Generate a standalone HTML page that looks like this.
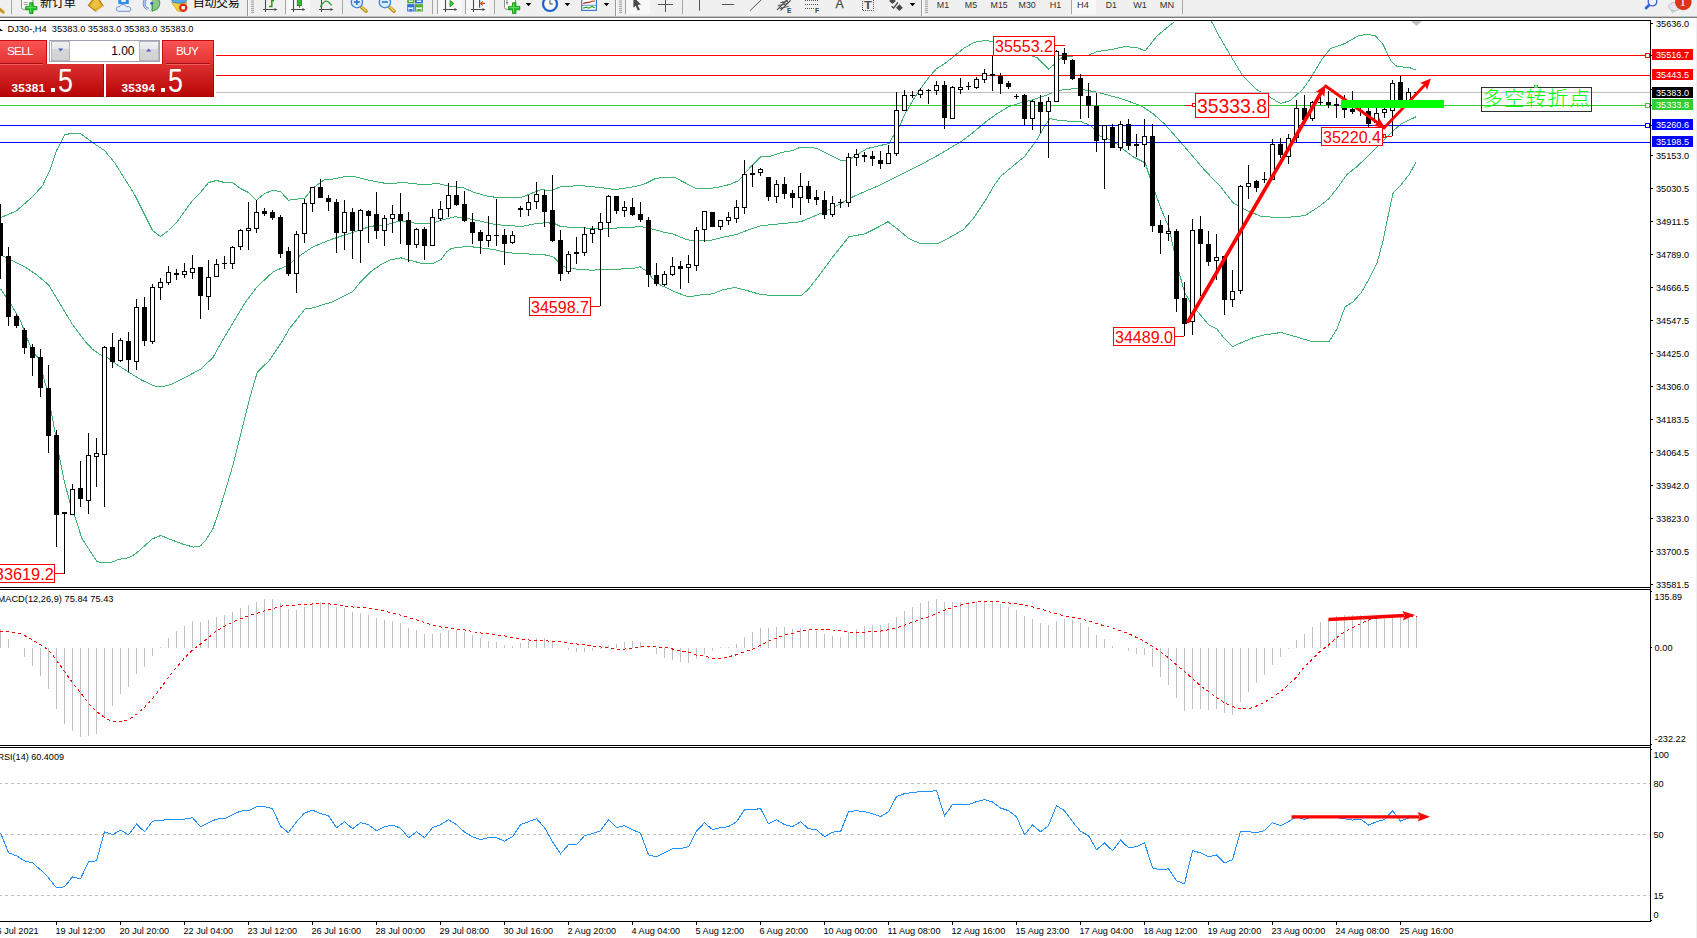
<!DOCTYPE html>
<html lang="zh">
<head>
<meta charset="utf-8">
<title>DJ30-,H4</title>
<style>
html,body{margin:0;padding:0;background:#fff;}
body{width:1697px;height:938px;overflow:hidden;position:relative;font-family:"Liberation Sans", "Noto Sans CJK SC", sans-serif;}
#tb{position:absolute;left:0;top:0;width:1697px;height:16px;background:#f0f0f0;overflow:hidden;}
#tb svg{position:absolute;left:0;top:0;}
.cn{position:absolute;top:-4.3px;font-size:12px;line-height:14px;color:#000;white-space:nowrap;font-family:"Liberation Sans","Noto Sans CJK SC",sans-serif;}
#sh1{position:absolute;left:0;top:16px;width:1697px;height:1px;background:#c4c4c4;}
#sh2{position:absolute;left:0;top:17px;width:1697px;height:1px;background:#7c7c7c;}
#redge{position:absolute;left:1696px;top:18px;width:1px;height:920px;background:#f0f0f0;}
#chart{position:absolute;left:0;top:0;}
#chart text{font-family:"Liberation Sans", "Noto Sans CJK SC", sans-serif;}
/* trade panel */
#panel{position:absolute;left:0;top:40px;width:214px;height:57px;}
#panel div{position:absolute;box-sizing:border-box;}
.tab{background:linear-gradient(#fa5454,#e23232);color:#fff;font-size:11.8px;line-height:24px;height:24px;top:0;letter-spacing:-0.75px;border-top:1px solid #c40c0c;}
.big{background:linear-gradient(#dc3030,#b80606);top:24px;height:33px;color:#fff;border-right:1px solid #b00404;border-bottom:1px solid #ac0000;}
.uline{height:1px;background:#a01414;top:23px;}
.uline2{height:1px;background:#f05c5c;top:24px;}
.sm{font-weight:bold;font-size:11.8px;line-height:12px;top:17.9px;letter-spacing:0.2px;}
.dot{width:4px;height:4px;background:#fff;top:23.5px;}
.lg{font-size:33.5px;line-height:34px;top:0px;transform:scaleX(0.8);transform-origin:0 0;}
#vol{left:49px;top:0px;width:111px;height:22px;border:1px solid #a0a4b4;background:#fff;}
.sp{top:0px;width:19.5px;height:20px;background:linear-gradient(#f0f0f0 0%,#e8e8e8 38%,#d6d6d6 40%,#d2d2d2 100%);border:1px solid #b4b6bc;}
</style>
</head>
<body>
<div id="tb">
<svg width="1697" height="16" viewBox="0 0 1697 16">
<path d="M-1 8.5 L3.2 12.2" stroke="#c99a1e" stroke-width="3" stroke-linecap="round"/>
<rect x="11" y="0" width="1" height="14" fill="#a6a6a6"/>
<path d="M21.5 -2 V7.5 Q21.5 9.2 23.2 9.2 H33 V-2" fill="#fdfdfd" stroke="#8c8c8c" stroke-width="1"/>
<path d="M23.5 2.5 h4.5 M23.5 4.5 h4.5" stroke="#9a9a9a" stroke-width="0.9"/>
<path d="M25.700000000000003 6.3999999999999995 h3.9 v-3.7 h3.4 v3.700 h3.900 v3.400 h-3.900 v3.700 h-3.400 v-3.700 h-3.900 z" fill="#28c428" stroke="#0c8c0c" stroke-width="0.800" stroke-linejoin="round"/>
<path d="M30.5 3.5 v9 M26.700000000000003 7.3999999999999995 h9" stroke="#7cf07c" stroke-width="0.800" opacity="0.800"/>
<polygon points="88.1,5.4 93.1,-1 99,-1 103.4,6.1 95.8,11.5" fill="#d49a18" stroke="#a87008" stroke-width="0.8"/>
<polygon points="90,6.2 94,0 98,0 101,5.4 95.6,9.4" fill="#ecc040"/>
<path d="M95.8 11.3 L103.2 6.2" stroke="#fff0b0" stroke-width="1"/>
<rect x="118.3" y="-3" width="10.5" height="7" fill="#2a90ee"/><rect x="121.3" y="-3" width="4.5" height="5" fill="#e4f2ff"/>
<path d="M118.5 11.3 q-3 -0.4 -2.2 -3 q0.8 -2 3 -1.6 q1 -2.6 4 -2.2 q2.6 0.2 3.2 2.4 q2.2 -1 3.8 0.6 q1.6 2.2 -0.6 3.8 z" fill="#e6eefa" stroke="#6486c4" stroke-width="0.9"/>
<circle cx="151.8" cy="3.4" r="7.4" fill="#eef2f6" stroke="#c4d4e8" stroke-width="0.8"/>
<path d="M151.8 3.4 L151.8 -4 A7.4 7.4 0 0 1 152.6 10.8 Z" fill="#8cc48c"/><path d="M152 -4 A7.4 7.4 0 0 1 152.6 10.8" fill="none" stroke="#4aa64a" stroke-width="1.2"/>
<path d="M149 -1.5 A5 5 0 0 0 149 8.3 M147 -3 A7.2 7.2 0 0 0 147 9.8" fill="none" stroke="#4a7cd0" stroke-width="0.9"/>
<path d="M152.2 3.4 V11.4" stroke="#2a9a2a" stroke-width="1.3"/><circle cx="151.8" cy="3.2" r="1.5" fill="#2a66c8"/>
<path d="M171.6 2.2 L186.6 2.2 L186 6 L180.5 11.4 L177.5 11 Z" fill="#f4d23c" stroke="#c89c14" stroke-width="0.7"/>
<ellipse cx="179.2" cy="0.6" rx="7.4" ry="2.6" fill="#5aa8e4" stroke="#2a78c0" stroke-width="0.7"/>
<circle cx="183.2" cy="7.7" r="4.2" fill="#dc2a14"/><rect x="181.5" y="6" width="3.4" height="3.4" fill="#fff"/>
<rect x="247" y="0" width="1" height="16" fill="#9a9a9a"/><rect x="248" y="0" width="1" height="16" fill="#fafafa"/>
<rect x="251" y="0.50" width="3" height="1" fill="#a4a4a4"/>
<rect x="251" y="2.42" width="3" height="1" fill="#a4a4a4"/>
<rect x="251" y="4.34" width="3" height="1" fill="#a4a4a4"/>
<rect x="251" y="6.26" width="3" height="1" fill="#a4a4a4"/>
<rect x="251" y="8.18" width="3" height="1" fill="#a4a4a4"/>
<rect x="251" y="10.10" width="3" height="1" fill="#a4a4a4"/>
<rect x="251" y="12.02" width="3" height="1" fill="#a4a4a4"/>
<path d="M265.5 -1 V12 M263 9.500 H276.5" stroke="#4a4a4a" stroke-width="1.100" fill="none"/><polygon points="277.3,9.500 274.5,7.900 274.5,11.100" fill="#4a4a4a"/>
<path d="M269 6.5 h2.8 v-5.7 h2.2" stroke="#1e9e1e" stroke-width="1.5" fill="none"/>
<rect x="285" y="0" width="1" height="14" fill="#a6a6a6"/>
<rect x="287" y="0" width="23" height="14" fill="#f8f8f8"/>
<path d="M293.5 -1 V12 M291 9.500 H304.5" stroke="#4a4a4a" stroke-width="1.100" fill="none"/><polygon points="305.3,9.500 302.5,7.900 302.5,11.100" fill="#4a4a4a"/>
<rect x="297.3" y="-3" width="4.2" height="8.6" fill="#2cc02c" stroke="#0c8c0c" stroke-width="0.8"/><path d="M299.4 5.6 v2.2" stroke="#0c8c0c" stroke-width="1"/>
<path d="M321.5 -1 V12 M319 9.500 H332.5" stroke="#4a4a4a" stroke-width="1.100" fill="none"/><polygon points="333.3,9.500 330.5,7.900 330.5,11.100" fill="#4a4a4a"/>
<path d="M320.2 6.8 Q324 1 326.6 1.1 Q328.6 1.4 331.6 5.4" stroke="#2a9a2a" stroke-width="1.2" fill="none"/>
<rect x="342" y="0" width="1" height="14" fill="#a6a6a6"/>
<path d="M360.7 6.4 L366.09999999999997 11.2" stroke="#b48a10" stroke-width="3.4" stroke-linecap="round"/><path d="M360.9 6.2 L365.9 10.8" stroke="#f0d050" stroke-width="1.6" stroke-linecap="round"/>
<circle cx="356.9" cy="2.2" r="5.6" fill="#d6ecff" stroke="#3c84d4" stroke-width="1.3"/>
<path d="M353.9 2 h6" stroke="#2c6cc4" stroke-width="1.5"/>
<path d="M356.9 -1 v6" stroke="#2c6cc4" stroke-width="1.5"/>
<path d="M388.7 6.4 L394.09999999999997 11.2" stroke="#b48a10" stroke-width="3.4" stroke-linecap="round"/><path d="M388.9 6.2 L393.9 10.8" stroke="#f0d050" stroke-width="1.6" stroke-linecap="round"/>
<circle cx="384.9" cy="2.2" r="5.6" fill="#d6ecff" stroke="#3c84d4" stroke-width="1.3"/>
<path d="M381.9 2 h6" stroke="#2c6cc4" stroke-width="1.5"/>
<rect x="407.2" y="-3" width="7.3" height="6.4" fill="#4eac2e"/><rect x="415" y="-3" width="7.9" height="6.4" fill="#2c6cdc"/><rect x="407.2" y="4.2" width="7.3" height="7.3" fill="#2c6cdc"/><rect x="415" y="4.2" width="7.9" height="7.3" fill="#4eac2e"/>
<path d="M408.8 1.2 h4 M416.8 1.2 h4.4 M408.8 8.2 h4 M416.8 8.2 h4.4" stroke="#fff" stroke-width="1.6"/>
<path d="M408.8 7 v3.6 M412.8 7 v3.6 M416.8 7 v3.6 M421.2 7 v3.6" stroke="#fff" stroke-width="0.9"/>
<rect x="432" y="0" width="1" height="14" fill="#a6a6a6"/>
<rect x="437" y="0" width="1" height="14" fill="#a6a6a6"/>
<rect x="438.5" y="0" width="23" height="14" fill="#f8f8f8"/>
<path d="M445.5 -1 V12 M443 9.500 H456.5" stroke="#4a4a4a" stroke-width="1.100" fill="none"/><polygon points="457.3,9.500 454.5,7.900 454.5,11.100" fill="#4a4a4a"/>
<polygon points="450,0.4 450,6.9 453.9,3.5" fill="#34c434" stroke="#0c8c0c" stroke-width="0.7"/>
<rect x="465" y="0" width="1" height="14" fill="#a6a6a6"/>
<rect x="466.5" y="0" width="23" height="14" fill="#f8f8f8"/>
<path d="M473.5 -1 V12 M471 9.500 H484.5" stroke="#4a4a4a" stroke-width="1.100" fill="none"/><polygon points="485.3,9.500 482.5,7.900 482.5,11.100" fill="#4a4a4a"/>
<path d="M479.6 -1 v8.7" stroke="#1c62b4" stroke-width="1.2"/><path d="M485 3.4 h-4 M482.8 1.4 l-2.3 2 l2.3 2" stroke="#d24a12" stroke-width="1.1" fill="none"/>
<rect x="494" y="0" width="1" height="14" fill="#a6a6a6"/>
<path d="M504.5 -2 V7.5 Q504.5 9.2 506.2 9.2 H515.5 V-2" fill="#fdfdfd" stroke="#8c8c8c" stroke-width="1"/><path d="M507 0 v5 M506 2.6 h2.4" stroke="#6a6a6a" stroke-width="0.8"/>
<path d="M508.6 6.3999999999999995 h3.9 v-3.7 h3.4 v3.700 h3.900 v3.400 h-3.900 v3.700 h-3.400 v-3.700 h-3.900 z" fill="#28c428" stroke="#0c8c0c" stroke-width="0.800" stroke-linejoin="round"/>
<path d="M513.4000000000001 3.5 v9 M509.6 7.3999999999999995 h9" stroke="#7cf07c" stroke-width="0.800" opacity="0.800"/>
<polygon points="525.8,3.1 531.2,3.1 528.5,6.2" fill="#000"/>
<circle cx="550" cy="4" r="7" fill="#f6f8fc" stroke="#1c62cc" stroke-width="2.2"/><path d="M550 0.200 v3.800 h2.800" stroke="#4a4a4a" stroke-width="1" fill="none"/>
<polygon points="564.6999999999999,3.1 570.1,3.1 567.4,6.2" fill="#000"/>
<rect x="581.7" y="-3" width="14.700" height="13.400" fill="#fff" stroke="#3a7ad0" stroke-width="1.2"/><path d="M581.5 5.200 h15" stroke="#3a7ad0" stroke-width="0.8"/>
<path d="M583.2 3.4 l3 -0.8 l3 -0.2 l2.600 -1.200 l3.200 -0.200" stroke="#b03018" stroke-width="1.1" fill="none"/><path d="M583.2 8.2 l3 -1 l2.800 1 l3 -1.800 l3 1.600" stroke="#1ea01e" stroke-width="1.1" fill="none"/>
<polygon points="603.8,3.1 609.2,3.1 606.5,6.2" fill="#000"/>
<rect x="615" y="0" width="1" height="16" fill="#9a9a9a"/><rect x="616" y="0" width="1" height="16" fill="#fafafa"/>
<rect x="619" y="0.50" width="3" height="1" fill="#a4a4a4"/>
<rect x="619" y="2.42" width="3" height="1" fill="#a4a4a4"/>
<rect x="619" y="4.34" width="3" height="1" fill="#a4a4a4"/>
<rect x="619" y="6.26" width="3" height="1" fill="#a4a4a4"/>
<rect x="619" y="8.18" width="3" height="1" fill="#a4a4a4"/>
<rect x="619" y="10.10" width="3" height="1" fill="#a4a4a4"/>
<rect x="619" y="12.02" width="3" height="1" fill="#a4a4a4"/>
<rect x="625" y="0" width="1" height="14" fill="#a6a6a6"/>
<rect x="626.5" y="0" width="23.500" height="14" fill="#f8f8f8"/>
<polygon points="633.4,-3 633.4,7.700 635.7,5.700 638,10.700 639.900,9.600 637.600,5 641,4.600" fill="#484848"/>
<path d="M665.500 -1 V12 M658 4.500 H673" stroke="#555" stroke-width="1"/>
<rect x="682" y="0" width="1" height="14" fill="#a6a6a6"/>
<path d="M699.500 -1 V10.700" stroke="#555" stroke-width="1"/>
<path d="M722 4.500 H734.200" stroke="#555" stroke-width="1"/>
<path d="M750 10.700 L761.800 -0.700" stroke="#555" stroke-width="1"/>
<path d="M777 9.800 l10.600 -10.600 M780.600 10.300 l10 -10" stroke="#4a4a4a" stroke-width="1.2" fill="none"/><path d="M777.600 6 l9.600 -2.400 M779.600 8.600 l9.600 -2.400 M780 2.800 l8 -2 M779 4.500 l3 4 M782.500 1.500 l3 4 M785.500 -1 l3 4" stroke="#4a4a4a" stroke-width="0.9" fill="none"/>
<text x="786.900" y="12.600" font-size="6.800" font-weight="bold" fill="#404040" font-family='"Liberation Sans", "Noto Sans CJK SC", sans-serif'>E</text>
<path d="M805 0.500 h13.400 M805 4.500 h13.400 M805 8.500 h9" stroke="#555" stroke-width="1" stroke-dasharray="1 1"/>
<text x="814.900" y="12.600" font-size="6.800" font-weight="bold" fill="#404040" font-family='"Liberation Sans", "Noto Sans CJK SC", sans-serif'>F</text>
<text x="835.600" y="8.400" font-size="12.200" fill="#484848" stroke="#484848" stroke-width="0.25" font-family='"Liberation Sans", "Noto Sans CJK SC", sans-serif'>A</text>
<path d="M862.500 -1 V10.500 H873.500 V-1" fill="none" stroke="#555" stroke-width="1" stroke-dasharray="1 1"/>
<text x="864.1" y="9" font-size="11.6" font-weight="bold" fill="#505050" font-family='"Liberation Sans", "Noto Sans CJK SC", sans-serif' textLength="7.9" lengthAdjust="spacingAndGlyphs">T</text>
<polygon points="892.500,-2.300 895.900,1.100 892.500,4 889.100,1.100" fill="#484848"/><polygon points="899.400,4.300 902.800,7.700 899.400,11.100 896,7.700" fill="#484848"/><path d="M891.500 6.300 l2.200 1.700 l4.200 -5.600" stroke="#484848" stroke-width="1.400" fill="none"/>
<polygon points="909.8,3.1 915.2,3.1 912.5,6.2" fill="#000"/>
<rect x="921" y="0" width="1" height="16" fill="#9a9a9a"/><rect x="922" y="0" width="1" height="16" fill="#fafafa"/>
<rect x="925" y="0.50" width="3" height="1" fill="#a4a4a4"/>
<rect x="925" y="2.42" width="3" height="1" fill="#a4a4a4"/>
<rect x="925" y="4.34" width="3" height="1" fill="#a4a4a4"/>
<rect x="925" y="6.26" width="3" height="1" fill="#a4a4a4"/>
<rect x="925" y="8.18" width="3" height="1" fill="#a4a4a4"/>
<rect x="925" y="10.10" width="3" height="1" fill="#a4a4a4"/>
<rect x="925" y="12.02" width="3" height="1" fill="#a4a4a4"/>
<rect x="1072" y="0" width="24" height="14" fill="#f8f8f8"/>
<rect x="1071" y="0" width="1" height="14" fill="#a6a6a6"/>
<text x="936.8" y="7.800" font-size="9.400" fill="#303030" font-family='"Liberation Sans", "Noto Sans CJK SC", sans-serif' textLength="12.3" lengthAdjust="spacingAndGlyphs">M1</text>
<text x="964.8" y="7.800" font-size="9.400" fill="#303030" font-family='"Liberation Sans", "Noto Sans CJK SC", sans-serif' textLength="12.3" lengthAdjust="spacingAndGlyphs">M5</text>
<text x="990.6" y="7.800" font-size="9.400" fill="#303030" font-family='"Liberation Sans", "Noto Sans CJK SC", sans-serif' textLength="17.2" lengthAdjust="spacingAndGlyphs">M15</text>
<text x="1018.6" y="7.800" font-size="9.400" fill="#303030" font-family='"Liberation Sans", "Noto Sans CJK SC", sans-serif' textLength="17.2" lengthAdjust="spacingAndGlyphs">M30</text>
<text x="1049.8" y="7.800" font-size="9.400" fill="#303030" font-family='"Liberation Sans", "Noto Sans CJK SC", sans-serif' textLength="11.6" lengthAdjust="spacingAndGlyphs">H1</text>
<text x="1077" y="7.800" font-size="9.400" fill="#303030" font-family='"Liberation Sans", "Noto Sans CJK SC", sans-serif' textLength="11.8" lengthAdjust="spacingAndGlyphs">H4</text>
<text x="1105.8" y="7.800" font-size="9.400" fill="#303030" font-family='"Liberation Sans", "Noto Sans CJK SC", sans-serif' textLength="11" lengthAdjust="spacingAndGlyphs">D1</text>
<text x="1133.3" y="7.800" font-size="9.400" fill="#303030" font-family='"Liberation Sans", "Noto Sans CJK SC", sans-serif' textLength="13.6" lengthAdjust="spacingAndGlyphs">W1</text>
<text x="1159.8" y="7.800" font-size="9.400" fill="#303030" font-family='"Liberation Sans", "Noto Sans CJK SC", sans-serif' textLength="14.4" lengthAdjust="spacingAndGlyphs">MN</text>
<rect x="1182" y="0" width="1" height="14" fill="#a6a6a6"/>
<path d="M1649.4 4.8 L1645.3 8.9" stroke="#2f5fd4" stroke-width="2.7" stroke-linecap="butt"/>
<circle cx="1652.5" cy="1.6" r="4.3" fill="#f6f6fa" stroke="#3a66d8" stroke-width="1.4"/>
<polygon points="1671.3,9.8 1672.3,12.8 1675.4,10.4" fill="#d8d8e0" stroke="#b4b4b4" stroke-width="0.7"/>
<ellipse cx="1674.6" cy="6.6" rx="5.8" ry="4.2" fill="#e6e6ee" stroke="#b8b8b8" stroke-width="0.9"/>
<circle cx="1683.3" cy="2" r="8.3" fill="#dc3418"/>
<text x="1679.6" y="6.2" font-size="13" fill="#fff" font-family='"Liberation Serif",serif'>1</text>
</svg>
<div class="cn" style="left:40px;letter-spacing:-0.1px">新订单</div>
<div class="cn" style="left:192.8px;letter-spacing:-0.35px">自动交易</div>
</div>
<div id="sh1"></div><div id="sh2"></div>
<svg id="chart" width="1697" height="938" viewBox="0 0 1697 938">
<g id="bands" shape-rendering="crispEdges">
<polyline points="0.5,217.8 16.5,210.8 32.5,196.7 42.5,185.7 50.5,168.7 56.5,150.6 64.5,135 70.5,133.5 80.5,133.5 92.5,142.5 104.5,150.5 114.5,162.5 124.5,178.5 134.5,194.5 144.5,214.5 152.5,230.5 160.5,236.5 168.5,230.5 176.5,222.5 184.5,211.5 192.5,200.5 200.5,192.5 208.5,182.5 216.5,180.5 224.5,182.5 232.5,182.5 240.5,188.5 248.5,192.5 256.5,200.3 264.5,193.5 272.5,190.5 280.5,191.5 288.5,200.3 296.5,199.1 304.5,198.5 312.5,188.5 324.5,179.5 330.5,179.6 344.5,176.6 354.6,176.6 370.6,180.6 386.6,183.6 404.7,182.6 422.7,184.6 438.8,183.6 450.8,186.6 462.8,187.6 474.8,192.6 488.9,196.6 504.9,198 520.9,197.6 531,193.6 541,189.6 551,190.6 561,186.6 581.1,185.6 601.1,187.6 615.2,189.6 631.2,187.2 643.2,184.6 655.3,178.6 664.5,177.2 674.5,177.2 684.6,182.6 696.6,188.7 708.6,188.7 720.6,186.7 730.7,184.2 738.7,180.6 744.7,173.6 752.7,164.6 760.7,157 768.8,156.6 780.8,152.6 792.8,150.6 800.8,147 808.8,147 816.9,148.6 824.9,152.6 832.9,156.6 840.9,160.6 846.9,161 857,154.6 867,148.6 877,146.2 889,143.6 893,136.5 896.5,132.8 904.6,114.7 912.6,100.7 920.6,88.7 928.6,77.6 936.6,68.6 944.7,63.6 954.7,55.6 964.7,47.6 974.7,42.2 984.7,40.5 994,41.5 1008.8,46.6 1024.8,53.6 1036.9,57.6 1048.9,69.2 1054.9,63.6 1061.9,57.6 1073,56 1089,55 1097,51.6 1111,49.6 1125.1,46.6 1137.1,47.6 1145.1,51 1156.5,36.5 1168.5,26.5 1174.5,21.5" fill="none" stroke="#3cb371" stroke-width="1" />
<polyline points="1211.5,21.5 1220.5,38.5 1230.5,55.5 1242.5,75.5 1256.5,89.5 1270.5,97.5 1280.5,103.5 1290.5,100.5 1302.5,89.5 1310.5,78.5 1322.5,58.5 1330.5,48.5 1345,43.5 1359,35.5 1367.1,34.5 1375.1,35.5 1383.1,44.5 1391.1,61.5 1397.1,66.5 1409.2,67.5 1416.2,70.2" fill="none" stroke="#3cb371" stroke-width="1" />
<polyline points="0.5,254.7 12.5,260.7 24.5,266.7 36.5,274.7 48.6,284.8 60.6,304.8 72.7,324.8 84.7,340.9 92.7,349.5 100.7,354.9 108.8,358.5 116.8,364.5 128.8,372.2 140.8,379.6 152.9,385.6 160.9,387 170.9,384.6 184.9,377.6 201,369 213,357.5 221,342.9 233.1,322.8 245.1,302.8 257.1,286.8 273.2,271.7 287.2,265.7 301.2,254.7 313.3,246.7 329.3,240.2 330.5,239.7 342.5,235.7 354.6,231.7 370.6,226.3 386.6,224.7 400.7,220.7 414.7,223.1 430.7,223.7 442.8,219.7 454.8,216.7 466.8,218.3 478.8,220.7 490.9,223.7 506.9,225.7 523,226.3 535,223.7 547,222.7 555,223.7 561,226.7 581.1,227.7 601.1,229.1 621.2,227.7 641.2,226.7 655.3,229.7 664.5,232.4 672.5,233.8 684.6,238.8 692.6,240.8 708.6,240.8 720.6,237.8 736.7,234.4 748.7,229.8 760.7,225.7 780.8,223.7 800.8,221.7 812.9,216.7 824.9,211.7 836.9,205.7 853,196.7 869,189.7 880.5,184.9 900.5,174.9 920.6,164.8 940.6,153.8 960.7,141.8 972.7,132.8 984.7,122.7 996.8,113.7 1008.8,106.7 1020.8,102.7 1032.9,99.7 1044.9,95.7 1054.9,91.7 1064.9,89.3 1077,88.7 1089,90.7 1101,93.1 1121.1,98.7 1141.1,105.7 1153.1,113.7 1165.2,124.7 1181.2,142.8 1193.2,156.8 1205.3,170.9 1220.7,186.7 1232.8,202.6 1244.8,209.6 1260.8,216.2 1280.9,218 1304.9,215.6 1319,206.6 1329,198.6 1337,188.5 1347,174.5 1357.1,166.5 1367.1,156.8 1379.1,144.8 1391.1,132.8 1401.1,123.8 1416.2,116.7" fill="none" stroke="#3cb371" stroke-width="1" />
<polyline points="0.5,288.8 6.5,297.8 12.5,306.8 20.5,320.8 26.5,336.9 32.5,350.9 38.5,358.5 46.6,388.6 52.6,418.7 58.6,452.8 64.1,480.5 70,502.9 75.9,519.4 81.8,538.2 97.1,561.8 106.5,563 113.5,561.8 118.4,559.5 129,557.7 136,553.5 152.5,538.8 160.8,535.5 170.2,539.4 184.4,544.7 193.8,547.1 200.5,545.9 205.5,540.5 213,528.5 221,504.9 233.1,464.8 241.1,432.7 249.1,400.6 257.1,372.6 263.1,366.5 269.1,360.9 281.2,342.9 289.2,328.9 305.2,308.8 313.3,307.8 329.3,302.8 330.5,302.9 352.6,291.8 360.6,281.8 370.6,271.8 380.6,264.8 390.6,259.8 400.7,257.8 410.7,260.4 420.7,263.2 432.7,263.8 440.8,259.8 446.8,251.7 450.8,248.7 458.8,247.1 470.8,246.7 482.9,248.1 494.9,249.7 506.9,252.7 531,254.1 547,255.1 553,256.8 557,260.4 561,265.8 571.1,268.8 581.1,269.2 591.1,270.2 611.2,269.2 631.2,268.8 640.2,266.8 647.2,271.8 655.3,281.8 663.3,286.8 664.5,286.9 674.5,291.9 688.6,296.9 700.6,294.9 712.6,293.9 722.6,289.9 734.7,287.5 744.7,289.9 760.7,294.5 776.8,295.9 800.8,295.9 808.8,288.9 820.9,272.9 832.9,256.8 848.9,236.8 865,233.8 877,227.8 888,221.7 897.1,228.8 909.1,238.8 921.1,243.8 937.2,243.8 949.2,237.8 963.2,229.8 973.2,218.7 985.3,200.7 993.3,186.7 1000.5,176.5 1012.5,166.5 1024.5,156.5 1036.5,140.5 1044.5,126.5 1049.9,118.7 1060.9,120.7 1081,121.7 1091,125.7 1097,132.8 1101,136.8 1113,140.8 1121.1,147.8 1133.1,156.8 1145.1,162.8 1151,180.5 1156.5,196.5 1162.6,212.6 1168.6,226.7 1173.6,248.7 1178.6,270.8 1184.7,292.8 1190.7,302.8 1198.7,312.9 1208.7,324.9 1216.7,328.9 1224.8,338.9 1232.8,346.5 1240.8,342.9 1252.8,337.9 1264.8,334.9 1280.9,332.5 1292.9,335.9 1313,341.9 1329,341.9 1337,328.9 1345,306.9 1353.1,301.8 1361.1,292.8 1369.1,278.8 1377.1,262.7 1383.1,240.7 1389.2,210.6 1393.2,192.6 1401.2,184.6 1409.2,174.5 1416.2,161.8" fill="none" stroke="#3cb371" stroke-width="1" />
</g>
<g id="hlines" shape-rendering="crispEdges">
<rect x="216" y="55" width="1434" height="1" fill="#ff0000"/>
<rect x="216" y="75" width="1434" height="1" fill="#ff0000"/>
<rect x="216" y="92" width="1434" height="1" fill="#c0c0c0"/>
<rect x="0" y="105" width="1650" height="1" fill="#32cd32"/>
<rect x="0" y="125" width="1650" height="1" fill="#0000ff"/>
<rect x="0" y="142" width="1650" height="1" fill="#0000ff"/>
</g>
<g id="candles" shape-rendering="crispEdges">
<rect x="0" y="204" width="1" height="75" fill="#000"/>
<rect x="-2" y="223" width="5" height="33" fill="#000"/>
<rect x="8" y="247" width="1" height="79" fill="#000"/>
<rect x="6" y="256" width="5" height="61" fill="#000"/>
<rect x="16" y="314" width="1" height="14" fill="#000"/>
<rect x="14" y="316" width="5" height="10" fill="#000"/>
<rect x="24" y="328" width="1" height="26" fill="#000"/>
<rect x="22" y="330" width="5" height="18" fill="#000"/>
<rect x="32" y="344" width="1" height="32" fill="#000"/>
<rect x="30" y="347" width="5" height="11" fill="#000"/>
<rect x="40" y="349" width="1" height="48" fill="#000"/>
<rect x="38" y="357" width="5" height="31" fill="#000"/>
<rect x="48" y="365" width="1" height="88" fill="#000"/>
<rect x="46" y="388" width="5" height="48" fill="#000"/>
<rect x="56" y="430" width="1" height="117" fill="#000"/>
<rect x="54" y="435" width="5" height="80" fill="#000"/>
<rect x="64" y="512" width="1" height="62" fill="#000"/>
<rect x="62" y="512" width="5" height="2" fill="#000"/>
<rect x="72" y="484" width="1" height="31" fill="#000"/>
<rect x="70" y="489" width="5" height="26" fill="#000"/>
<rect x="71" y="490" width="3" height="24" fill="#fff"/>
<rect x="80" y="461" width="1" height="46" fill="#000"/>
<rect x="78" y="488" width="5" height="11" fill="#000"/>
<rect x="88" y="433" width="1" height="81" fill="#000"/>
<rect x="86" y="455" width="5" height="46" fill="#000"/>
<rect x="87" y="456" width="3" height="44" fill="#fff"/>
<rect x="96" y="438" width="1" height="49" fill="#000"/>
<rect x="94" y="453" width="5" height="4" fill="#000"/>
<rect x="95" y="454" width="3" height="2" fill="#fff"/>
<rect x="104" y="346" width="1" height="161" fill="#000"/>
<rect x="102" y="347" width="5" height="108" fill="#000"/>
<rect x="103" y="348" width="3" height="106" fill="#fff"/>
<rect x="112" y="333" width="1" height="35" fill="#000"/>
<rect x="110" y="347" width="5" height="15" fill="#000"/>
<rect x="120" y="338" width="1" height="24" fill="#000"/>
<rect x="118" y="340" width="5" height="21" fill="#000"/>
<rect x="119" y="341" width="3" height="19" fill="#fff"/>
<rect x="128" y="332" width="1" height="40" fill="#000"/>
<rect x="126" y="341" width="5" height="19" fill="#000"/>
<rect x="136" y="299" width="1" height="71" fill="#000"/>
<rect x="134" y="307" width="5" height="55" fill="#000"/>
<rect x="135" y="308" width="3" height="53" fill="#fff"/>
<rect x="144" y="297" width="1" height="49" fill="#000"/>
<rect x="142" y="307" width="5" height="34" fill="#000"/>
<rect x="152" y="284" width="1" height="60" fill="#000"/>
<rect x="150" y="287" width="5" height="55" fill="#000"/>
<rect x="151" y="288" width="3" height="53" fill="#fff"/>
<rect x="160" y="278" width="1" height="22" fill="#000"/>
<rect x="158" y="282" width="5" height="6" fill="#000"/>
<rect x="159" y="283" width="3" height="4" fill="#fff"/>
<rect x="168" y="266" width="1" height="19" fill="#000"/>
<rect x="166" y="272" width="5" height="11" fill="#000"/>
<rect x="167" y="273" width="3" height="9" fill="#fff"/>
<rect x="176" y="269" width="1" height="11" fill="#000"/>
<rect x="174" y="273" width="5" height="2" fill="#000"/>
<rect x="184" y="263" width="1" height="15" fill="#000"/>
<rect x="182" y="271" width="5" height="4" fill="#000"/>
<rect x="183" y="272" width="3" height="2" fill="#fff"/>
<rect x="192" y="255" width="1" height="24" fill="#000"/>
<rect x="190" y="268" width="5" height="5" fill="#000"/>
<rect x="191" y="269" width="3" height="3" fill="#fff"/>
<rect x="200" y="267" width="1" height="52" fill="#000"/>
<rect x="198" y="267" width="5" height="29" fill="#000"/>
<rect x="208" y="260" width="1" height="50" fill="#000"/>
<rect x="206" y="277" width="5" height="20" fill="#000"/>
<rect x="207" y="278" width="3" height="18" fill="#fff"/>
<rect x="216" y="259" width="1" height="18" fill="#000"/>
<rect x="214" y="264" width="5" height="13" fill="#000"/>
<rect x="215" y="265" width="3" height="11" fill="#fff"/>
<rect x="224" y="256" width="1" height="13" fill="#000"/>
<rect x="222" y="263" width="5" height="1" fill="#000"/>
<rect x="232" y="246" width="1" height="23" fill="#000"/>
<rect x="230" y="247" width="5" height="17" fill="#000"/>
<rect x="231" y="248" width="3" height="15" fill="#fff"/>
<rect x="240" y="229" width="1" height="21" fill="#000"/>
<rect x="238" y="230" width="5" height="17" fill="#000"/>
<rect x="239" y="231" width="3" height="15" fill="#fff"/>
<rect x="248" y="202" width="1" height="48" fill="#000"/>
<rect x="246" y="228" width="5" height="3" fill="#000"/>
<rect x="247" y="229" width="3" height="1" fill="#fff"/>
<rect x="256" y="200" width="1" height="33" fill="#000"/>
<rect x="254" y="212" width="5" height="17" fill="#000"/>
<rect x="255" y="213" width="3" height="15" fill="#fff"/>
<rect x="264" y="208" width="1" height="8" fill="#000"/>
<rect x="262" y="211" width="5" height="3" fill="#000"/>
<rect x="272" y="210" width="1" height="10" fill="#000"/>
<rect x="270" y="212" width="5" height="6" fill="#000"/>
<rect x="280" y="215" width="1" height="43" fill="#000"/>
<rect x="278" y="217" width="5" height="37" fill="#000"/>
<rect x="288" y="247" width="1" height="29" fill="#000"/>
<rect x="286" y="251" width="5" height="23" fill="#000"/>
<rect x="296" y="231" width="1" height="62" fill="#000"/>
<rect x="294" y="234" width="5" height="40" fill="#000"/>
<rect x="295" y="235" width="3" height="38" fill="#fff"/>
<rect x="304" y="199" width="1" height="44" fill="#000"/>
<rect x="302" y="203" width="5" height="31" fill="#000"/>
<rect x="303" y="204" width="3" height="29" fill="#fff"/>
<rect x="312" y="187" width="1" height="25" fill="#000"/>
<rect x="310" y="187" width="5" height="17" fill="#000"/>
<rect x="311" y="188" width="3" height="15" fill="#fff"/>
<rect x="320" y="179" width="1" height="19" fill="#000"/>
<rect x="318" y="187" width="5" height="11" fill="#000"/>
<rect x="328" y="195" width="1" height="16" fill="#000"/>
<rect x="326" y="198" width="5" height="4" fill="#000"/>
<rect x="336" y="199" width="1" height="54" fill="#000"/>
<rect x="334" y="202" width="5" height="31" fill="#000"/>
<rect x="344" y="200" width="1" height="50" fill="#000"/>
<rect x="342" y="212" width="5" height="21" fill="#000"/>
<rect x="343" y="213" width="3" height="19" fill="#fff"/>
<rect x="352" y="208" width="1" height="51" fill="#000"/>
<rect x="350" y="212" width="5" height="19" fill="#000"/>
<rect x="360" y="209" width="1" height="54" fill="#000"/>
<rect x="358" y="210" width="5" height="21" fill="#000"/>
<rect x="359" y="211" width="3" height="19" fill="#fff"/>
<rect x="368" y="210" width="1" height="33" fill="#000"/>
<rect x="366" y="211" width="5" height="5" fill="#000"/>
<rect x="376" y="192" width="1" height="47" fill="#000"/>
<rect x="374" y="214" width="5" height="17" fill="#000"/>
<rect x="384" y="215" width="1" height="31" fill="#000"/>
<rect x="382" y="218" width="5" height="13" fill="#000"/>
<rect x="383" y="219" width="3" height="11" fill="#fff"/>
<rect x="392" y="205" width="1" height="28" fill="#000"/>
<rect x="390" y="214" width="5" height="5" fill="#000"/>
<rect x="391" y="215" width="3" height="3" fill="#fff"/>
<rect x="400" y="193" width="1" height="51" fill="#000"/>
<rect x="398" y="214" width="5" height="7" fill="#000"/>
<rect x="408" y="212" width="1" height="50" fill="#000"/>
<rect x="406" y="220" width="5" height="25" fill="#000"/>
<rect x="416" y="228" width="1" height="20" fill="#000"/>
<rect x="414" y="229" width="5" height="16" fill="#000"/>
<rect x="415" y="230" width="3" height="14" fill="#fff"/>
<rect x="424" y="227" width="1" height="33" fill="#000"/>
<rect x="422" y="229" width="5" height="17" fill="#000"/>
<rect x="432" y="209" width="1" height="37" fill="#000"/>
<rect x="430" y="217" width="5" height="29" fill="#000"/>
<rect x="431" y="218" width="3" height="27" fill="#fff"/>
<rect x="440" y="201" width="1" height="20" fill="#000"/>
<rect x="438" y="209" width="5" height="10" fill="#000"/>
<rect x="439" y="210" width="3" height="8" fill="#fff"/>
<rect x="448" y="183" width="1" height="34" fill="#000"/>
<rect x="446" y="195" width="5" height="14" fill="#000"/>
<rect x="447" y="196" width="3" height="12" fill="#fff"/>
<rect x="456" y="181" width="1" height="25" fill="#000"/>
<rect x="454" y="195" width="5" height="10" fill="#000"/>
<rect x="464" y="191" width="1" height="31" fill="#000"/>
<rect x="462" y="204" width="5" height="17" fill="#000"/>
<rect x="472" y="213" width="1" height="31" fill="#000"/>
<rect x="470" y="222" width="5" height="11" fill="#000"/>
<rect x="480" y="230" width="1" height="24" fill="#000"/>
<rect x="478" y="232" width="5" height="9" fill="#000"/>
<rect x="488" y="216" width="1" height="31" fill="#000"/>
<rect x="486" y="235" width="5" height="6" fill="#000"/>
<rect x="487" y="236" width="3" height="4" fill="#fff"/>
<rect x="496" y="199" width="1" height="47" fill="#000"/>
<rect x="494" y="235" width="5" height="1" fill="#000"/>
<rect x="504" y="229" width="1" height="36" fill="#000"/>
<rect x="502" y="235" width="5" height="9" fill="#000"/>
<rect x="512" y="231" width="1" height="13" fill="#000"/>
<rect x="510" y="235" width="5" height="8" fill="#000"/>
<rect x="511" y="236" width="3" height="6" fill="#fff"/>
<rect x="520" y="206" width="1" height="11" fill="#000"/>
<rect x="518" y="208" width="5" height="2" fill="#000"/>
<rect x="528" y="195" width="1" height="21" fill="#000"/>
<rect x="526" y="202" width="5" height="8" fill="#000"/>
<rect x="527" y="203" width="3" height="6" fill="#fff"/>
<rect x="536" y="182" width="1" height="27" fill="#000"/>
<rect x="534" y="194" width="5" height="8" fill="#000"/>
<rect x="535" y="195" width="3" height="6" fill="#fff"/>
<rect x="544" y="190" width="1" height="37" fill="#000"/>
<rect x="542" y="195" width="5" height="17" fill="#000"/>
<rect x="552" y="175" width="1" height="67" fill="#000"/>
<rect x="550" y="210" width="5" height="31" fill="#000"/>
<rect x="560" y="230" width="1" height="51" fill="#000"/>
<rect x="558" y="240" width="5" height="34" fill="#000"/>
<rect x="568" y="251" width="1" height="23" fill="#000"/>
<rect x="566" y="254" width="5" height="18" fill="#000"/>
<rect x="567" y="255" width="3" height="16" fill="#fff"/>
<rect x="576" y="237" width="1" height="27" fill="#000"/>
<rect x="574" y="252" width="5" height="2" fill="#000"/>
<rect x="584" y="227" width="1" height="29" fill="#000"/>
<rect x="582" y="234" width="5" height="19" fill="#000"/>
<rect x="583" y="235" width="3" height="17" fill="#fff"/>
<rect x="592" y="226" width="1" height="17" fill="#000"/>
<rect x="590" y="229" width="5" height="5" fill="#000"/>
<rect x="591" y="230" width="3" height="3" fill="#fff"/>
<rect x="600" y="213" width="1" height="93" fill="#000"/>
<rect x="598" y="222" width="5" height="8" fill="#000"/>
<rect x="599" y="223" width="3" height="6" fill="#fff"/>
<rect x="608" y="195" width="1" height="42" fill="#000"/>
<rect x="606" y="196" width="5" height="27" fill="#000"/>
<rect x="607" y="197" width="3" height="25" fill="#fff"/>
<rect x="616" y="196" width="1" height="18" fill="#000"/>
<rect x="614" y="196" width="5" height="15" fill="#000"/>
<rect x="624" y="201" width="1" height="16" fill="#000"/>
<rect x="622" y="207" width="5" height="4" fill="#000"/>
<rect x="623" y="208" width="3" height="2" fill="#fff"/>
<rect x="632" y="198" width="1" height="18" fill="#000"/>
<rect x="630" y="207" width="5" height="8" fill="#000"/>
<rect x="640" y="202" width="1" height="20" fill="#000"/>
<rect x="638" y="214" width="5" height="6" fill="#000"/>
<rect x="648" y="217" width="1" height="70" fill="#000"/>
<rect x="646" y="220" width="5" height="55" fill="#000"/>
<rect x="656" y="263" width="1" height="23" fill="#000"/>
<rect x="654" y="275" width="5" height="9" fill="#000"/>
<rect x="664" y="271" width="1" height="15" fill="#000"/>
<rect x="662" y="274" width="5" height="11" fill="#000"/>
<rect x="663" y="275" width="3" height="9" fill="#fff"/>
<rect x="672" y="257" width="1" height="19" fill="#000"/>
<rect x="670" y="266" width="5" height="9" fill="#000"/>
<rect x="671" y="267" width="3" height="7" fill="#fff"/>
<rect x="680" y="261" width="1" height="28" fill="#000"/>
<rect x="678" y="266" width="5" height="3" fill="#000"/>
<rect x="688" y="255" width="1" height="28" fill="#000"/>
<rect x="686" y="264" width="5" height="4" fill="#000"/>
<rect x="687" y="265" width="3" height="2" fill="#fff"/>
<rect x="696" y="227" width="1" height="44" fill="#000"/>
<rect x="694" y="230" width="5" height="36" fill="#000"/>
<rect x="695" y="231" width="3" height="34" fill="#fff"/>
<rect x="704" y="211" width="1" height="31" fill="#000"/>
<rect x="702" y="211" width="5" height="19" fill="#000"/>
<rect x="703" y="212" width="3" height="17" fill="#fff"/>
<rect x="712" y="212" width="1" height="15" fill="#000"/>
<rect x="710" y="212" width="5" height="15" fill="#000"/>
<rect x="720" y="220" width="1" height="10" fill="#000"/>
<rect x="718" y="220" width="5" height="7" fill="#000"/>
<rect x="719" y="221" width="3" height="5" fill="#fff"/>
<rect x="728" y="212" width="1" height="13" fill="#000"/>
<rect x="726" y="217" width="5" height="4" fill="#000"/>
<rect x="727" y="218" width="3" height="2" fill="#fff"/>
<rect x="736" y="200" width="1" height="23" fill="#000"/>
<rect x="734" y="207" width="5" height="12" fill="#000"/>
<rect x="735" y="208" width="3" height="10" fill="#fff"/>
<rect x="744" y="160" width="1" height="54" fill="#000"/>
<rect x="742" y="174" width="5" height="34" fill="#000"/>
<rect x="743" y="175" width="3" height="32" fill="#fff"/>
<rect x="752" y="165" width="1" height="22" fill="#000"/>
<rect x="750" y="173" width="5" height="2" fill="#000"/>
<rect x="760" y="168" width="1" height="8" fill="#000"/>
<rect x="758" y="169" width="5" height="4" fill="#000"/>
<rect x="759" y="170" width="3" height="2" fill="#fff"/>
<rect x="768" y="177" width="1" height="24" fill="#000"/>
<rect x="766" y="177" width="5" height="20" fill="#000"/>
<rect x="776" y="180" width="1" height="23" fill="#000"/>
<rect x="774" y="184" width="5" height="13" fill="#000"/>
<rect x="775" y="185" width="3" height="11" fill="#fff"/>
<rect x="784" y="177" width="1" height="22" fill="#000"/>
<rect x="782" y="184" width="5" height="10" fill="#000"/>
<rect x="792" y="190" width="1" height="18" fill="#000"/>
<rect x="790" y="193" width="5" height="5" fill="#000"/>
<rect x="800" y="173" width="1" height="42" fill="#000"/>
<rect x="798" y="186" width="5" height="12" fill="#000"/>
<rect x="799" y="187" width="3" height="10" fill="#fff"/>
<rect x="808" y="181" width="1" height="22" fill="#000"/>
<rect x="806" y="186" width="5" height="13" fill="#000"/>
<rect x="816" y="190" width="1" height="15" fill="#000"/>
<rect x="814" y="197" width="5" height="3" fill="#000"/>
<rect x="824" y="191" width="1" height="28" fill="#000"/>
<rect x="822" y="200" width="5" height="15" fill="#000"/>
<rect x="832" y="196" width="1" height="21" fill="#000"/>
<rect x="830" y="203" width="5" height="12" fill="#000"/>
<rect x="831" y="204" width="3" height="10" fill="#fff"/>
<rect x="840" y="199" width="1" height="9" fill="#000"/>
<rect x="838" y="202" width="5" height="1" fill="#000"/>
<rect x="848" y="153" width="1" height="54" fill="#000"/>
<rect x="846" y="157" width="5" height="46" fill="#000"/>
<rect x="847" y="158" width="3" height="44" fill="#fff"/>
<rect x="856" y="149" width="1" height="17" fill="#000"/>
<rect x="854" y="154" width="5" height="4" fill="#000"/>
<rect x="855" y="155" width="3" height="2" fill="#fff"/>
<rect x="864" y="152" width="1" height="10" fill="#000"/>
<rect x="862" y="155" width="5" height="2" fill="#000"/>
<rect x="872" y="151" width="1" height="15" fill="#000"/>
<rect x="870" y="156" width="5" height="3" fill="#000"/>
<rect x="880" y="151" width="1" height="18" fill="#000"/>
<rect x="878" y="160" width="5" height="4" fill="#000"/>
<rect x="888" y="145" width="1" height="19" fill="#000"/>
<rect x="886" y="153" width="5" height="11" fill="#000"/>
<rect x="887" y="154" width="3" height="9" fill="#fff"/>
<rect x="896" y="92" width="1" height="64" fill="#000"/>
<rect x="894" y="110" width="5" height="44" fill="#000"/>
<rect x="895" y="111" width="3" height="42" fill="#fff"/>
<rect x="904" y="90" width="1" height="21" fill="#000"/>
<rect x="902" y="95" width="5" height="16" fill="#000"/>
<rect x="903" y="96" width="3" height="14" fill="#fff"/>
<rect x="912" y="91" width="1" height="7" fill="#000"/>
<rect x="910" y="95" width="5" height="1" fill="#000"/>
<rect x="920" y="88" width="1" height="10" fill="#000"/>
<rect x="918" y="90" width="5" height="5" fill="#000"/>
<rect x="919" y="91" width="3" height="3" fill="#fff"/>
<rect x="928" y="89" width="1" height="15" fill="#000"/>
<rect x="926" y="90" width="5" height="1" fill="#000"/>
<rect x="936" y="81" width="1" height="14" fill="#000"/>
<rect x="934" y="85" width="5" height="6" fill="#000"/>
<rect x="935" y="86" width="3" height="4" fill="#fff"/>
<rect x="944" y="81" width="1" height="48" fill="#000"/>
<rect x="942" y="85" width="5" height="33" fill="#000"/>
<rect x="952" y="86" width="1" height="33" fill="#000"/>
<rect x="950" y="87" width="5" height="32" fill="#000"/>
<rect x="951" y="88" width="3" height="30" fill="#fff"/>
<rect x="960" y="78" width="1" height="16" fill="#000"/>
<rect x="958" y="87" width="5" height="3" fill="#000"/>
<rect x="959" y="88" width="3" height="1" fill="#fff"/>
<rect x="968" y="82" width="1" height="8" fill="#000"/>
<rect x="966" y="86" width="5" height="1" fill="#000"/>
<rect x="976" y="77" width="1" height="12" fill="#000"/>
<rect x="974" y="79" width="5" height="9" fill="#000"/>
<rect x="975" y="80" width="3" height="7" fill="#fff"/>
<rect x="984" y="69" width="1" height="14" fill="#000"/>
<rect x="982" y="73" width="5" height="7" fill="#000"/>
<rect x="983" y="74" width="3" height="5" fill="#fff"/>
<rect x="992" y="56" width="1" height="35" fill="#000"/>
<rect x="990" y="74" width="5" height="2" fill="#000"/>
<rect x="1000" y="73" width="1" height="21" fill="#000"/>
<rect x="998" y="76" width="5" height="8" fill="#000"/>
<rect x="1008" y="81" width="1" height="8" fill="#000"/>
<rect x="1006" y="83" width="5" height="4" fill="#000"/>
<rect x="1016" y="94" width="1" height="5" fill="#000"/>
<rect x="1014" y="96" width="5" height="1" fill="#000"/>
<rect x="1024" y="94" width="1" height="31" fill="#000"/>
<rect x="1022" y="95" width="5" height="24" fill="#000"/>
<rect x="1032" y="100" width="1" height="30" fill="#000"/>
<rect x="1030" y="101" width="5" height="18" fill="#000"/>
<rect x="1031" y="102" width="3" height="16" fill="#fff"/>
<rect x="1040" y="95" width="1" height="38" fill="#000"/>
<rect x="1038" y="102" width="5" height="10" fill="#000"/>
<rect x="1048" y="97" width="1" height="61" fill="#000"/>
<rect x="1046" y="101" width="5" height="11" fill="#000"/>
<rect x="1047" y="102" width="3" height="9" fill="#fff"/>
<rect x="1056" y="50" width="1" height="52" fill="#000"/>
<rect x="1054" y="51" width="5" height="51" fill="#000"/>
<rect x="1055" y="52" width="3" height="49" fill="#fff"/>
<rect x="1064" y="48" width="1" height="16" fill="#000"/>
<rect x="1062" y="53" width="5" height="7" fill="#000"/>
<rect x="1072" y="59" width="1" height="21" fill="#000"/>
<rect x="1070" y="60" width="5" height="19" fill="#000"/>
<rect x="1080" y="74" width="1" height="45" fill="#000"/>
<rect x="1078" y="78" width="5" height="18" fill="#000"/>
<rect x="1088" y="83" width="1" height="35" fill="#000"/>
<rect x="1086" y="96" width="5" height="10" fill="#000"/>
<rect x="1096" y="93" width="1" height="59" fill="#000"/>
<rect x="1094" y="106" width="5" height="35" fill="#000"/>
<rect x="1104" y="125" width="1" height="64" fill="#000"/>
<rect x="1102" y="125" width="5" height="15" fill="#000"/>
<rect x="1103" y="126" width="3" height="13" fill="#fff"/>
<rect x="1112" y="124" width="1" height="24" fill="#000"/>
<rect x="1110" y="127" width="5" height="21" fill="#000"/>
<rect x="1120" y="121" width="1" height="30" fill="#000"/>
<rect x="1118" y="124" width="5" height="24" fill="#000"/>
<rect x="1119" y="125" width="3" height="22" fill="#fff"/>
<rect x="1128" y="119" width="1" height="31" fill="#000"/>
<rect x="1126" y="124" width="5" height="22" fill="#000"/>
<rect x="1136" y="134" width="1" height="23" fill="#000"/>
<rect x="1134" y="144" width="5" height="2" fill="#000"/>
<rect x="1144" y="119" width="1" height="48" fill="#000"/>
<rect x="1142" y="136" width="5" height="9" fill="#000"/>
<rect x="1143" y="137" width="3" height="7" fill="#fff"/>
<rect x="1152" y="124" width="1" height="108" fill="#000"/>
<rect x="1150" y="136" width="5" height="90" fill="#000"/>
<rect x="1160" y="220" width="1" height="34" fill="#000"/>
<rect x="1158" y="225" width="5" height="8" fill="#000"/>
<rect x="1168" y="215" width="1" height="26" fill="#000"/>
<rect x="1166" y="231" width="5" height="3" fill="#000"/>
<rect x="1167" y="232" width="3" height="1" fill="#fff"/>
<rect x="1176" y="229" width="1" height="83" fill="#000"/>
<rect x="1174" y="231" width="5" height="68" fill="#000"/>
<rect x="1184" y="282" width="1" height="54" fill="#000"/>
<rect x="1182" y="298" width="5" height="26" fill="#000"/>
<rect x="1192" y="219" width="1" height="116" fill="#000"/>
<rect x="1190" y="230" width="5" height="92" fill="#000"/>
<rect x="1191" y="231" width="3" height="90" fill="#fff"/>
<rect x="1200" y="216" width="1" height="80" fill="#000"/>
<rect x="1198" y="229" width="5" height="15" fill="#000"/>
<rect x="1208" y="231" width="1" height="35" fill="#000"/>
<rect x="1206" y="244" width="5" height="18" fill="#000"/>
<rect x="1216" y="234" width="1" height="46" fill="#000"/>
<rect x="1214" y="257" width="5" height="4" fill="#000"/>
<rect x="1215" y="258" width="3" height="2" fill="#fff"/>
<rect x="1224" y="256" width="1" height="59" fill="#000"/>
<rect x="1222" y="256" width="5" height="44" fill="#000"/>
<rect x="1232" y="270" width="1" height="37" fill="#000"/>
<rect x="1230" y="291" width="5" height="9" fill="#000"/>
<rect x="1231" y="292" width="3" height="7" fill="#fff"/>
<rect x="1240" y="185" width="1" height="109" fill="#000"/>
<rect x="1238" y="186" width="5" height="105" fill="#000"/>
<rect x="1239" y="187" width="3" height="103" fill="#fff"/>
<rect x="1248" y="165" width="1" height="34" fill="#000"/>
<rect x="1246" y="183" width="5" height="4" fill="#000"/>
<rect x="1247" y="184" width="3" height="2" fill="#fff"/>
<rect x="1256" y="180" width="1" height="12" fill="#000"/>
<rect x="1254" y="181" width="5" height="7" fill="#000"/>
<rect x="1264" y="172" width="1" height="11" fill="#000"/>
<rect x="1262" y="179" width="5" height="1" fill="#000"/>
<rect x="1272" y="139" width="1" height="41" fill="#000"/>
<rect x="1270" y="144" width="5" height="36" fill="#000"/>
<rect x="1271" y="145" width="3" height="34" fill="#fff"/>
<rect x="1280" y="138" width="1" height="20" fill="#000"/>
<rect x="1278" y="144" width="5" height="11" fill="#000"/>
<rect x="1288" y="134" width="1" height="30" fill="#000"/>
<rect x="1286" y="138" width="5" height="19" fill="#000"/>
<rect x="1287" y="139" width="3" height="17" fill="#fff"/>
<rect x="1296" y="100" width="1" height="42" fill="#000"/>
<rect x="1294" y="108" width="5" height="30" fill="#000"/>
<rect x="1295" y="109" width="3" height="28" fill="#fff"/>
<rect x="1304" y="95" width="1" height="26" fill="#000"/>
<rect x="1302" y="108" width="5" height="12" fill="#000"/>
<rect x="1312" y="101" width="1" height="20" fill="#000"/>
<rect x="1310" y="102" width="5" height="17" fill="#000"/>
<rect x="1311" y="103" width="3" height="15" fill="#fff"/>
<rect x="1320" y="97" width="1" height="8" fill="#000"/>
<rect x="1318" y="102" width="5" height="1" fill="#000"/>
<rect x="1328" y="91" width="1" height="17" fill="#000"/>
<rect x="1326" y="102" width="5" height="3" fill="#000"/>
<rect x="1336" y="98" width="1" height="20" fill="#000"/>
<rect x="1334" y="104" width="5" height="2" fill="#000"/>
<rect x="1344" y="95" width="1" height="23" fill="#000"/>
<rect x="1342" y="106" width="5" height="4" fill="#000"/>
<rect x="1352" y="91" width="1" height="23" fill="#000"/>
<rect x="1350" y="109" width="5" height="3" fill="#000"/>
<rect x="1360" y="106" width="1" height="10" fill="#000"/>
<rect x="1358" y="110" width="5" height="1" fill="#000"/>
<rect x="1368" y="108" width="1" height="20" fill="#000"/>
<rect x="1366" y="111" width="5" height="13" fill="#000"/>
<rect x="1376" y="108" width="1" height="15" fill="#000"/>
<rect x="1374" y="113" width="5" height="10" fill="#000"/>
<rect x="1375" y="114" width="3" height="8" fill="#fff"/>
<rect x="1384" y="108" width="1" height="10" fill="#000"/>
<rect x="1382" y="109" width="5" height="4" fill="#000"/>
<rect x="1383" y="110" width="3" height="2" fill="#fff"/>
<rect x="1392" y="80" width="1" height="56" fill="#000"/>
<rect x="1390" y="83" width="5" height="28" fill="#000"/>
<rect x="1391" y="84" width="3" height="26" fill="#fff"/>
<rect x="1400" y="76" width="1" height="27" fill="#000"/>
<rect x="1398" y="82" width="5" height="20" fill="#000"/>
<rect x="1408" y="88" width="1" height="13" fill="#000"/>
<rect x="1406" y="92" width="5" height="9" fill="#000"/>
<rect x="1407" y="93" width="3" height="7" fill="#fff"/>
<rect x="1414" y="92" width="5" height="1" fill="#000"/>
</g>
<g id="arrows">
<line x1="1188.2" y1="321.4" x2="1321" y2="92.8" stroke="#ff0000" stroke-width="3.7" stroke-linecap="round"/>
<polygon points="1325.5,85 1324.3,97 1321.2,92.4 1315.7,92" fill="#ff0000"/>
<line x1="1325.5" y1="86" x2="1377.6" y2="122.8" stroke="#ff0000" stroke-width="3.0" stroke-linecap="round"/>
<polygon points="1385,128 1373.1,125.7 1378.1,123.1 1378.9,117.6" fill="#ff0000"/>
<line x1="1384" y1="128" x2="1424.8" y2="85" stroke="#ff0000" stroke-width="2.8" stroke-linecap="round"/>
<polygon points="1431,78.5 1427.1,89.9 1425.1,84.7 1419.8,83" fill="#ff0000"/>
</g>
<rect x="1341" y="100" width="103" height="8" fill="#00ff00" shape-rendering="crispEdges"/>
<g id="plabels">
<rect x="-7.5" y="564.5" width="62" height="18" fill="#fff" stroke="#ff0000" stroke-width="1" shape-rendering="crispEdges"/>
<text x="-5.2" y="580" font-size="16.5" fill="#ff0000" textLength="59" lengthAdjust="spacingAndGlyphs">33619.2</text>
<rect x="55" y="573" width="9" height="1" fill="#ff0000" shape-rendering="crispEdges"/>
<rect x="529.5" y="297.5" width="61" height="18" fill="#fff" stroke="#ff0000" stroke-width="1" shape-rendering="crispEdges"/>
<text x="531" y="313" font-size="16.5" fill="#ff0000" textLength="58" lengthAdjust="spacingAndGlyphs">34598.7</text>
<rect x="591" y="306" width="9" height="1" fill="#ff0000" shape-rendering="crispEdges"/>
<rect x="993.5" y="36.5" width="61" height="19" fill="#fff" stroke="#ff0000" stroke-width="1" shape-rendering="crispEdges"/>
<text x="995" y="52" font-size="16.5" fill="#ff0000" textLength="58" lengthAdjust="spacingAndGlyphs">35553.2</text>
<rect x="1055" y="45" width="10" height="1" fill="#ff0000" shape-rendering="crispEdges"/>
<rect x="1113.5" y="327.5" width="61" height="18" fill="#fff" stroke="#ff0000" stroke-width="1" shape-rendering="crispEdges"/>
<text x="1115" y="343" font-size="16.5" fill="#ff0000" textLength="58" lengthAdjust="spacingAndGlyphs">34489.0</text>
<rect x="1175" y="336" width="9" height="1" fill="#ff0000" shape-rendering="crispEdges"/>
<rect x="1195.5" y="93.5" width="73" height="24" fill="#fff" stroke="#ff0000" stroke-width="1" shape-rendering="crispEdges"/>
<text x="1197" y="113" font-size="21" fill="#ff0000" textLength="70" lengthAdjust="spacingAndGlyphs">35333.8</text>
<rect x="1185" y="105" width="8" height="1" fill="#ff0000" shape-rendering="crispEdges"/>
<rect x="1192.5" y="103.5" width="3" height="3" fill="#fff" stroke="#ff0000" shape-rendering="crispEdges"/>
<rect x="1321.5" y="127.5" width="61" height="18" fill="#fff" stroke="#ff0000" stroke-width="1" shape-rendering="crispEdges"/>
<text x="1323" y="143" font-size="16.5" fill="#ff0000" textLength="58" lengthAdjust="spacingAndGlyphs">35220.4</text>
<rect x="1383" y="136" width="9" height="1" fill="#ff0000" shape-rendering="crispEdges"/>
<rect x="1383.5" y="134.5" width="2" height="3" fill="#fff" stroke="#ff0000" shape-rendering="crispEdges"/>
</g>
<g id="cn">
<rect x="1481.5" y="87.5" width="110" height="24" fill="none" stroke="#303030" stroke-width="1" shape-rendering="crispEdges"/>
<rect x="1534.5" y="85.5" width="3" height="2" fill="none" stroke="#32cd32" stroke-width="1" shape-rendering="crispEdges"/>
<text x="1482" y="106.3" font-size="20.8" fill="#00ff00" font-family='"Noto Serif CJK SC","Noto Sans CJK SC",serif' font-weight="200" textLength="108" lengthAdjust="spacing">多空转折点</text>
</g>
<polygon points="1411,21 1422,21 1416.5,26" fill="#c0c0c0"/>
<g id="macd" shape-rendering="crispEdges">
<rect x="0" y="629" width="1" height="19" fill="#c0c0c0"/>
<rect x="8" y="639" width="1" height="9" fill="#c0c0c0"/>
<rect x="24" y="648" width="1" height="9" fill="#c0c0c0"/>
<rect x="32" y="648" width="1" height="18" fill="#c0c0c0"/>
<rect x="40" y="648" width="1" height="28" fill="#c0c0c0"/>
<rect x="48" y="648" width="1" height="41" fill="#c0c0c0"/>
<rect x="56" y="648" width="1" height="61" fill="#c0c0c0"/>
<rect x="64" y="648" width="1" height="76" fill="#c0c0c0"/>
<rect x="72" y="648" width="1" height="83" fill="#c0c0c0"/>
<rect x="80" y="648" width="1" height="89" fill="#c0c0c0"/>
<rect x="88" y="648" width="1" height="88" fill="#c0c0c0"/>
<rect x="96" y="648" width="1" height="86" fill="#c0c0c0"/>
<rect x="104" y="648" width="1" height="69" fill="#c0c0c0"/>
<rect x="112" y="648" width="1" height="58" fill="#c0c0c0"/>
<rect x="120" y="648" width="1" height="46" fill="#c0c0c0"/>
<rect x="128" y="648" width="1" height="39" fill="#c0c0c0"/>
<rect x="136" y="648" width="1" height="26" fill="#c0c0c0"/>
<rect x="144" y="648" width="1" height="19" fill="#c0c0c0"/>
<rect x="152" y="648" width="1" height="8" fill="#c0c0c0"/>
<rect x="160" y="647" width="1" height="1" fill="#c0c0c0"/>
<rect x="168" y="638" width="1" height="10" fill="#c0c0c0"/>
<rect x="176" y="631" width="1" height="17" fill="#c0c0c0"/>
<rect x="184" y="626" width="1" height="22" fill="#c0c0c0"/>
<rect x="192" y="621" width="1" height="27" fill="#c0c0c0"/>
<rect x="200" y="622" width="1" height="26" fill="#c0c0c0"/>
<rect x="208" y="620" width="1" height="28" fill="#c0c0c0"/>
<rect x="216" y="617" width="1" height="31" fill="#c0c0c0"/>
<rect x="224" y="615" width="1" height="33" fill="#c0c0c0"/>
<rect x="232" y="612" width="1" height="36" fill="#c0c0c0"/>
<rect x="240" y="608" width="1" height="40" fill="#c0c0c0"/>
<rect x="248" y="605" width="1" height="43" fill="#c0c0c0"/>
<rect x="256" y="602" width="1" height="46" fill="#c0c0c0"/>
<rect x="264" y="599" width="1" height="49" fill="#c0c0c0"/>
<rect x="272" y="599" width="1" height="49" fill="#c0c0c0"/>
<rect x="280" y="603" width="1" height="45" fill="#c0c0c0"/>
<rect x="288" y="609" width="1" height="39" fill="#c0c0c0"/>
<rect x="296" y="610" width="1" height="38" fill="#c0c0c0"/>
<rect x="304" y="607" width="1" height="41" fill="#c0c0c0"/>
<rect x="312" y="603" width="1" height="45" fill="#c0c0c0"/>
<rect x="320" y="602" width="1" height="46" fill="#c0c0c0"/>
<rect x="328" y="603" width="1" height="45" fill="#c0c0c0"/>
<rect x="336" y="607" width="1" height="41" fill="#c0c0c0"/>
<rect x="344" y="608" width="1" height="40" fill="#c0c0c0"/>
<rect x="352" y="612" width="1" height="36" fill="#c0c0c0"/>
<rect x="360" y="613" width="1" height="35" fill="#c0c0c0"/>
<rect x="368" y="615" width="1" height="33" fill="#c0c0c0"/>
<rect x="376" y="618" width="1" height="30" fill="#c0c0c0"/>
<rect x="384" y="620" width="1" height="28" fill="#c0c0c0"/>
<rect x="392" y="621" width="1" height="27" fill="#c0c0c0"/>
<rect x="400" y="623" width="1" height="25" fill="#c0c0c0"/>
<rect x="408" y="628" width="1" height="20" fill="#c0c0c0"/>
<rect x="416" y="630" width="1" height="18" fill="#c0c0c0"/>
<rect x="424" y="634" width="1" height="14" fill="#c0c0c0"/>
<rect x="432" y="634" width="1" height="14" fill="#c0c0c0"/>
<rect x="440" y="633" width="1" height="15" fill="#c0c0c0"/>
<rect x="448" y="630" width="1" height="18" fill="#c0c0c0"/>
<rect x="456" y="630" width="1" height="18" fill="#c0c0c0"/>
<rect x="464" y="632" width="1" height="16" fill="#c0c0c0"/>
<rect x="472" y="635" width="1" height="13" fill="#c0c0c0"/>
<rect x="480" y="638" width="1" height="10" fill="#c0c0c0"/>
<rect x="488" y="641" width="1" height="7" fill="#c0c0c0"/>
<rect x="496" y="642" width="1" height="6" fill="#c0c0c0"/>
<rect x="504" y="645" width="1" height="3" fill="#c0c0c0"/>
<rect x="512" y="646" width="1" height="2" fill="#c0c0c0"/>
<rect x="520" y="643" width="1" height="5" fill="#c0c0c0"/>
<rect x="528" y="641" width="1" height="7" fill="#c0c0c0"/>
<rect x="536" y="638" width="1" height="10" fill="#c0c0c0"/>
<rect x="544" y="638" width="1" height="10" fill="#c0c0c0"/>
<rect x="552" y="641" width="1" height="7" fill="#c0c0c0"/>
<rect x="568" y="648" width="1" height="2" fill="#c0c0c0"/>
<rect x="576" y="648" width="1" height="4" fill="#c0c0c0"/>
<rect x="584" y="648" width="1" height="4" fill="#c0c0c0"/>
<rect x="592" y="648" width="1" height="3" fill="#c0c0c0"/>
<rect x="600" y="648" width="1" height="1" fill="#c0c0c0"/>
<rect x="608" y="645" width="1" height="3" fill="#c0c0c0"/>
<rect x="616" y="644" width="1" height="4" fill="#c0c0c0"/>
<rect x="624" y="642" width="1" height="6" fill="#c0c0c0"/>
<rect x="632" y="641" width="1" height="7" fill="#c0c0c0"/>
<rect x="640" y="642" width="1" height="6" fill="#c0c0c0"/>
<rect x="648" y="647" width="1" height="1" fill="#c0c0c0"/>
<rect x="656" y="648" width="1" height="6" fill="#c0c0c0"/>
<rect x="664" y="648" width="1" height="10" fill="#c0c0c0"/>
<rect x="672" y="648" width="1" height="12" fill="#c0c0c0"/>
<rect x="680" y="648" width="1" height="14" fill="#c0c0c0"/>
<rect x="688" y="648" width="1" height="15" fill="#c0c0c0"/>
<rect x="696" y="648" width="1" height="11" fill="#c0c0c0"/>
<rect x="704" y="648" width="1" height="6" fill="#c0c0c0"/>
<rect x="712" y="648" width="1" height="3" fill="#c0c0c0"/>
<rect x="720" y="647" width="1" height="1" fill="#c0c0c0"/>
<rect x="728" y="647" width="1" height="1" fill="#c0c0c0"/>
<rect x="736" y="644" width="1" height="4" fill="#c0c0c0"/>
<rect x="744" y="637" width="1" height="11" fill="#c0c0c0"/>
<rect x="752" y="632" width="1" height="16" fill="#c0c0c0"/>
<rect x="760" y="628" width="1" height="20" fill="#c0c0c0"/>
<rect x="768" y="628" width="1" height="20" fill="#c0c0c0"/>
<rect x="776" y="627" width="1" height="21" fill="#c0c0c0"/>
<rect x="784" y="627" width="1" height="21" fill="#c0c0c0"/>
<rect x="792" y="629" width="1" height="19" fill="#c0c0c0"/>
<rect x="800" y="628" width="1" height="20" fill="#c0c0c0"/>
<rect x="808" y="630" width="1" height="18" fill="#c0c0c0"/>
<rect x="816" y="631" width="1" height="17" fill="#c0c0c0"/>
<rect x="824" y="634" width="1" height="14" fill="#c0c0c0"/>
<rect x="832" y="636" width="1" height="12" fill="#c0c0c0"/>
<rect x="840" y="637" width="1" height="11" fill="#c0c0c0"/>
<rect x="848" y="632" width="1" height="16" fill="#c0c0c0"/>
<rect x="856" y="629" width="1" height="19" fill="#c0c0c0"/>
<rect x="864" y="626" width="1" height="22" fill="#c0c0c0"/>
<rect x="872" y="625" width="1" height="23" fill="#c0c0c0"/>
<rect x="880" y="625" width="1" height="23" fill="#c0c0c0"/>
<rect x="888" y="623" width="1" height="25" fill="#c0c0c0"/>
<rect x="896" y="617" width="1" height="31" fill="#c0c0c0"/>
<rect x="904" y="611" width="1" height="37" fill="#c0c0c0"/>
<rect x="912" y="607" width="1" height="41" fill="#c0c0c0"/>
<rect x="920" y="603" width="1" height="45" fill="#c0c0c0"/>
<rect x="928" y="601" width="1" height="47" fill="#c0c0c0"/>
<rect x="936" y="599" width="1" height="49" fill="#c0c0c0"/>
<rect x="944" y="602" width="1" height="46" fill="#c0c0c0"/>
<rect x="952" y="602" width="1" height="46" fill="#c0c0c0"/>
<rect x="960" y="602" width="1" height="46" fill="#c0c0c0"/>
<rect x="968" y="602" width="1" height="46" fill="#c0c0c0"/>
<rect x="976" y="602" width="1" height="46" fill="#c0c0c0"/>
<rect x="984" y="601" width="1" height="47" fill="#c0c0c0"/>
<rect x="992" y="601" width="1" height="47" fill="#c0c0c0"/>
<rect x="1000" y="604" width="1" height="44" fill="#c0c0c0"/>
<rect x="1008" y="607" width="1" height="41" fill="#c0c0c0"/>
<rect x="1016" y="610" width="1" height="38" fill="#c0c0c0"/>
<rect x="1024" y="616" width="1" height="32" fill="#c0c0c0"/>
<rect x="1032" y="619" width="1" height="29" fill="#c0c0c0"/>
<rect x="1040" y="623" width="1" height="25" fill="#c0c0c0"/>
<rect x="1048" y="625" width="1" height="23" fill="#c0c0c0"/>
<rect x="1056" y="621" width="1" height="27" fill="#c0c0c0"/>
<rect x="1064" y="619" width="1" height="29" fill="#c0c0c0"/>
<rect x="1072" y="620" width="1" height="28" fill="#c0c0c0"/>
<rect x="1080" y="623" width="1" height="25" fill="#c0c0c0"/>
<rect x="1088" y="627" width="1" height="21" fill="#c0c0c0"/>
<rect x="1096" y="635" width="1" height="13" fill="#c0c0c0"/>
<rect x="1104" y="639" width="1" height="9" fill="#c0c0c0"/>
<rect x="1112" y="646" width="1" height="2" fill="#c0c0c0"/>
<rect x="1128" y="648" width="1" height="3" fill="#c0c0c0"/>
<rect x="1136" y="648" width="1" height="6" fill="#c0c0c0"/>
<rect x="1144" y="648" width="1" height="7" fill="#c0c0c0"/>
<rect x="1152" y="648" width="1" height="19" fill="#c0c0c0"/>
<rect x="1160" y="648" width="1" height="29" fill="#c0c0c0"/>
<rect x="1168" y="648" width="1" height="37" fill="#c0c0c0"/>
<rect x="1176" y="648" width="1" height="50" fill="#c0c0c0"/>
<rect x="1184" y="648" width="1" height="63" fill="#c0c0c0"/>
<rect x="1192" y="648" width="1" height="61" fill="#c0c0c0"/>
<rect x="1200" y="648" width="1" height="61" fill="#c0c0c0"/>
<rect x="1208" y="648" width="1" height="62" fill="#c0c0c0"/>
<rect x="1216" y="648" width="1" height="61" fill="#c0c0c0"/>
<rect x="1224" y="648" width="1" height="65" fill="#c0c0c0"/>
<rect x="1232" y="648" width="1" height="67" fill="#c0c0c0"/>
<rect x="1240" y="648" width="1" height="54" fill="#c0c0c0"/>
<rect x="1248" y="648" width="1" height="44" fill="#c0c0c0"/>
<rect x="1256" y="648" width="1" height="35" fill="#c0c0c0"/>
<rect x="1264" y="648" width="1" height="27" fill="#c0c0c0"/>
<rect x="1272" y="648" width="1" height="17" fill="#c0c0c0"/>
<rect x="1280" y="648" width="1" height="9" fill="#c0c0c0"/>
<rect x="1288" y="648" width="1" height="1" fill="#c0c0c0"/>
<rect x="1296" y="640" width="1" height="8" fill="#c0c0c0"/>
<rect x="1304" y="634" width="1" height="14" fill="#c0c0c0"/>
<rect x="1312" y="627" width="1" height="21" fill="#c0c0c0"/>
<rect x="1320" y="622" width="1" height="26" fill="#c0c0c0"/>
<rect x="1328" y="619" width="1" height="29" fill="#c0c0c0"/>
<rect x="1336" y="616" width="1" height="32" fill="#c0c0c0"/>
<rect x="1344" y="615" width="1" height="33" fill="#c0c0c0"/>
<rect x="1352" y="615" width="1" height="33" fill="#c0c0c0"/>
<rect x="1360" y="615" width="1" height="33" fill="#c0c0c0"/>
<rect x="1368" y="617" width="1" height="31" fill="#c0c0c0"/>
<rect x="1376" y="618" width="1" height="30" fill="#c0c0c0"/>
<rect x="1384" y="619" width="1" height="29" fill="#c0c0c0"/>
<rect x="1392" y="617" width="1" height="31" fill="#c0c0c0"/>
<rect x="1400" y="615" width="1" height="33" fill="#c0c0c0"/>
<rect x="1408" y="616" width="1" height="32" fill="#c0c0c0"/>
<rect x="1416" y="617" width="1" height="31" fill="#c0c0c0"/>
<polyline points="0.5,631.2 8.5,632 16.9,632.6 24.8,635.6 32.8,640 40.8,645 48.8,650.1 56.8,660.7 64.9,672.1 72.9,683.1 80.9,693.2 88.9,703.8 96.9,711.8 104.9,717.8 113,721.8 121,721.8 129,719.4 137,713.8 145,706.8 153.1,697.8 160.9,687.7 168.9,676.7 176.9,666.7 184.9,657.7 193,649.7 201,643.6 209,637.2 217,630.6 225,626.2 233,622 241.1,618.6 249.1,615.6 257.1,613.2 265.1,610.6 272.9,608.6 281,606.1 289,605.5 297,604.9 305,604.9 313,603.9 321.1,603.9 328.9,603.9 336.5,604.9 344.5,605.9 352.6,607 360.6,607 368.6,608 376.6,609.6 384.6,611 392.6,613.2 400.7,615.2 408.7,617.6 416.7,620 424.7,622.6 432.7,625 440.8,627 448.8,628 456.8,629 464.8,630 472.8,631.6 480.9,633 488.9,634 496.9,635 504.9,636 512.9,638 520.9,639 529,640 537,640.6 545,640.6 553,641.6 561,642 569.1,643 577.1,644 585.1,645 593.1,646 601.1,647 609.2,648 617.2,649 625.2,649 633.2,648 641.2,647 649.3,646 657.3,647 664.5,647 672.5,649 680.5,651.1 688.6,652.1 696.6,655.1 704.6,656.1 712.6,658.1 720.6,658.1 728.7,656.7 736.7,654.7 744.7,651.7 752.7,649 760.7,645 768.8,641 776.8,638 784.8,635 792.8,633.6 800.8,630.6 808.8,630 816.9,629 824.9,629 832.9,630 840.9,631 848.9,632 857,632 865,632 873,631 881,631 889,629.6 897.1,627.6 905.1,625 913.1,622 921.1,619 929.1,616.6 937.2,613.2 945.2,610 953.2,607.2 961.2,604.9 969.2,602.9 977.2,601.9 985.3,601.9 992.5,601.9 1000.5,601.9 1008.5,602.9 1016.6,603.9 1024.6,604.9 1032.6,607 1040.6,609 1048.6,611.6 1056.7,614 1064.7,616 1072.7,617.6 1080.7,619 1088.7,621 1096.7,623.6 1104.8,626 1112.8,628 1120.8,631 1128.8,633.6 1136.8,637.6 1144.9,641.6 1152.9,646.6 1160.9,652.1 1168.9,658.1 1176.9,665.1 1185,672.1 1193,679.1 1201,686.1 1209,691.8 1217,697.8 1225.1,703.2 1233.1,706.8 1241.1,708.8 1249.1,708.8 1257.1,705.8 1265.1,701.8 1273.2,696.8 1281.2,691.1 1289.2,684.1 1297.2,676.1 1304.5,666.7 1312.5,659.1 1320.5,651.1 1328.6,645 1336.6,637.6 1344.6,631.6 1352.6,627.6 1360.6,623.6 1368.7,620 1376.7,618 1384.7,617 1392.7,616.6 1400.7,616.6 1408.8,616.6 1416.6,616.6" fill="none" stroke="#ff0000" stroke-width="1" stroke-dasharray="3 3"/>
</g>
<g id="rsi" shape-rendering="crispEdges">
<line x1="0" y1="783.5" x2="1650" y2="783.5" stroke="#c0c0c0" stroke-width="1" stroke-dasharray="3 3" stroke-dashoffset="1"/>
<line x1="0" y1="834.5" x2="1650" y2="834.5" stroke="#c0c0c0" stroke-width="1" stroke-dasharray="3 3" stroke-dashoffset="1"/>
<line x1="0" y1="895.5" x2="1650" y2="895.5" stroke="#c0c0c0" stroke-width="1" stroke-dasharray="3 3" stroke-dashoffset="1"/>
</g>
<g id="rsiline" shape-rendering="crispEdges">
<polyline points="0.5,832.7 8.5,852.8 16.5,855.8 24.5,860.8 32.5,862.8 40.5,869.8 48.5,877.8 56.5,887.8 64.5,886.8 72.5,876.8 80.5,878.8 88.5,861.8 96.5,860.8 104.5,831.7 112.5,834.7 120.5,830.1 128.5,834.7 136.5,824.1 144.5,831.7 152.5,821.1 160.5,820.7 168.5,819.1 176.5,819.1 184.5,819.1 192.5,817.7 200.5,826.7 208.5,822.7 216.5,819.1 224.5,818.7 232.5,814.7 240.5,811.1 248.5,810.7 256.5,806.6 264.5,806.6 272.5,808.6 280.5,826.1 288.5,832.7 296.5,821.7 304.5,813.1 312.5,810.1 320.5,813.7 328.5,815.7 336.5,827.7 344.5,821.7 352.5,828.7 360.5,822.7 368.5,824.7 376.5,830.7 384.5,826.7 392.5,825.1 400.5,828.1 408.5,837.7 416.5,831.7 424.5,837.7 432.5,827.7 440.5,824.7 448.5,819.7 456.5,824.7 464.5,832.1 472.5,836.7 480.5,839.7 488.5,837.7 496.5,837.7 504.5,841.1 512.5,836.7 520.5,824.7 528.5,821.7 536.5,818.7 544.5,827.7 552.5,841.7 560.5,853.8 568.5,844.7 576.5,844.7 584.5,835.7 592.5,833.7 600.5,830.7 608.5,819.7 616.5,827.7 624.5,825.7 632.5,829.7 640.5,833.1 648.5,854.8 656.5,856.8 664.5,852.8 672.5,848.7 680.5,848.7 688.5,846.7 696.5,831.1 704.5,822.7 712.5,829.7 720.5,827.7 728.5,826.7 736.5,821.7 744.5,809.7 752.5,809.7 760.5,808.6 768.5,823.7 776.5,819.7 784.5,824.7 792.5,826.7 800.5,821.7 808.5,828.7 816.5,829.7 824.5,836.7 832.5,832.1 840.5,831.7 848.5,811.7 856.5,810.7 864.5,811.7 872.5,813.7 880.5,816.7 888.5,811.7 896.5,796.6 904.5,793.6 912.5,792.6 920.5,791.6 928.5,791.6 936.5,790.6 944.5,815.7 952.5,804.6 960.5,804.6 968.5,804.6 976.5,801.6 984.5,799.6 992.5,802 1000.5,808 1008.5,810.7 1016.5,816.7 1024.5,834.7 1032.5,825.1 1040.5,831.7 1048.5,825.7 1056.5,805.6 1064.5,810.7 1072.5,821.7 1080.5,831.3 1088.5,835.7 1096.5,849.7 1104.5,843.1 1112.5,850.7 1120.5,840.1 1128.5,847.7 1136.5,846.7 1144.5,842.7 1152.5,867.8 1160.5,869.8 1168.5,868.8 1176.5,880.8 1184.5,883.8 1192.5,850.7 1200.5,852.8 1208.5,856.8 1216.5,854.8 1224.5,862.8 1232.5,859.8 1240.5,831.7 1248.5,831.7 1256.5,832.7 1264.5,830.7 1272.5,822.7 1280.5,825.7 1288.5,821.7 1296.5,816.7 1304.5,819.7 1312.5,816.7 1320.5,817.3 1328.5,817.3 1336.5,817.7 1344.5,818.7 1352.5,820.1 1360.5,819.1 1368.5,825.1 1376.5,821.7 1384.5,819.7 1392.5,810.7 1400.5,821.1 1408.5,818.1 1416.5,817.1" fill="none" stroke="#1e90ff" stroke-width="1" />
</g>
<g id="arrows2">
<line x1="1328.5" y1="619.5" x2="1404.5" y2="615.5" stroke="#ff0000" stroke-width="3.4" stroke-linecap="butt"/>
<polygon points="1415,615 1402.8,620.4 1405,615.5 1402.3,610.9" fill="#ff0000"/>
<line x1="1291.5" y1="816.8" x2="1419.5" y2="816.8" stroke="#ff0000" stroke-width="3.2" stroke-linecap="butt"/>
<polygon points="1430,816.8 1417.5,821.6 1420,816.8 1417.5,812" fill="#ff0000"/>
</g>
<g id="frame" shape-rendering="crispEdges">
<rect x="0" y="20" width="1651" height="1" fill="#000"/>
<rect x="1650" y="20" width="1" height="902" fill="#000"/>
<rect x="0" y="587" width="1651" height="1" fill="#000"/>
<rect x="0" y="588" width="1650" height="1" fill="#fff"/>
<rect x="0" y="589" width="1651" height="1" fill="#000"/>
<rect x="0" y="745" width="1651" height="1" fill="#000"/>
<rect x="0" y="746" width="1650" height="1" fill="#fff"/>
<rect x="0" y="747" width="1651" height="1" fill="#000"/>
<rect x="0" y="921" width="1651" height="1" fill="#000"/>
<rect x="1651" y="20" width="45" height="902" fill="#fff"/>
<rect x="1651" y="588" width="45" height="1" fill="#fff"/>
</g>
<g id="axis" font-size="9.7">
<rect x="1651" y="23" width="2" height="1" fill="#000" shape-rendering="crispEdges"/>
<text x="1656" y="27" textLength="33" lengthAdjust="spacingAndGlyphs">35636.0</text>
<rect x="1651" y="155" width="2" height="1" fill="#000" shape-rendering="crispEdges"/>
<text x="1656" y="159" textLength="33" lengthAdjust="spacingAndGlyphs">35153.0</text>
<rect x="1651" y="188" width="2" height="1" fill="#000" shape-rendering="crispEdges"/>
<text x="1656" y="192" textLength="33" lengthAdjust="spacingAndGlyphs">35030.5</text>
<rect x="1651" y="221" width="2" height="1" fill="#000" shape-rendering="crispEdges"/>
<text x="1656" y="225" textLength="33" lengthAdjust="spacingAndGlyphs">34911.5</text>
<rect x="1651" y="254" width="2" height="1" fill="#000" shape-rendering="crispEdges"/>
<text x="1656" y="258" textLength="33" lengthAdjust="spacingAndGlyphs">34789.0</text>
<rect x="1651" y="287" width="2" height="1" fill="#000" shape-rendering="crispEdges"/>
<text x="1656" y="291" textLength="33" lengthAdjust="spacingAndGlyphs">34666.5</text>
<rect x="1651" y="320" width="2" height="1" fill="#000" shape-rendering="crispEdges"/>
<text x="1656" y="324" textLength="33" lengthAdjust="spacingAndGlyphs">34547.5</text>
<rect x="1651" y="353" width="2" height="1" fill="#000" shape-rendering="crispEdges"/>
<text x="1656" y="357" textLength="33" lengthAdjust="spacingAndGlyphs">34425.0</text>
<rect x="1651" y="386" width="2" height="1" fill="#000" shape-rendering="crispEdges"/>
<text x="1656" y="390" textLength="33" lengthAdjust="spacingAndGlyphs">34306.0</text>
<rect x="1651" y="419" width="2" height="1" fill="#000" shape-rendering="crispEdges"/>
<text x="1656" y="423" textLength="33" lengthAdjust="spacingAndGlyphs">34183.5</text>
<rect x="1651" y="452" width="2" height="1" fill="#000" shape-rendering="crispEdges"/>
<text x="1656" y="456" textLength="33" lengthAdjust="spacingAndGlyphs">34064.5</text>
<rect x="1651" y="485" width="2" height="1" fill="#000" shape-rendering="crispEdges"/>
<text x="1656" y="489" textLength="33" lengthAdjust="spacingAndGlyphs">33942.0</text>
<rect x="1651" y="518" width="2" height="1" fill="#000" shape-rendering="crispEdges"/>
<text x="1656" y="522" textLength="33" lengthAdjust="spacingAndGlyphs">33823.0</text>
<rect x="1651" y="551" width="2" height="1" fill="#000" shape-rendering="crispEdges"/>
<text x="1656" y="555" textLength="33" lengthAdjust="spacingAndGlyphs">33700.5</text>
<rect x="1651" y="584" width="2" height="1" fill="#000" shape-rendering="crispEdges"/>
<text x="1656" y="588" textLength="33" lengthAdjust="spacingAndGlyphs">33581.5</text>
<rect x="1652" y="49" width="41" height="11" fill="#ff0000" shape-rendering="crispEdges"/>
<rect x="1651" y="55" width="1" height="1" fill="#000" shape-rendering="crispEdges"/>
<text x="1656" y="58" fill="#fff" textLength="33" lengthAdjust="spacingAndGlyphs">35516.7</text>
<rect x="1645.5" y="53.5" width="4" height="4" fill="#fff" stroke="#ff0000" stroke-width="1" shape-rendering="crispEdges"/>
<rect x="1652" y="69" width="41" height="11" fill="#ff0000" shape-rendering="crispEdges"/>
<text x="1656" y="78" fill="#fff" textLength="33" lengthAdjust="spacingAndGlyphs">35443.5</text>
<rect x="1651" y="89" width="1" height="1" fill="#000" shape-rendering="crispEdges"/>
<rect x="1652" y="87" width="41" height="11" fill="#000000" shape-rendering="crispEdges"/>
<text x="1656" y="96" fill="#fff" textLength="33" lengthAdjust="spacingAndGlyphs">35383.0</text>
<rect x="1652" y="99" width="41" height="11" fill="#32cd32" shape-rendering="crispEdges"/>
<rect x="1651" y="105" width="1" height="1" fill="#000" shape-rendering="crispEdges"/>
<text x="1656" y="108" fill="#fff" textLength="33" lengthAdjust="spacingAndGlyphs">35333.8</text>
<rect x="1645.5" y="103.5" width="4" height="4" fill="#fff" stroke="#32cd32" stroke-width="1" shape-rendering="crispEdges"/>
<rect x="1652" y="119" width="41" height="11" fill="#0000ff" shape-rendering="crispEdges"/>
<rect x="1651" y="125" width="1" height="1" fill="#000" shape-rendering="crispEdges"/>
<text x="1656" y="128" fill="#fff" textLength="33" lengthAdjust="spacingAndGlyphs">35260.6</text>
<rect x="1645.5" y="123.5" width="4" height="4" fill="#fff" stroke="#0000ff" stroke-width="1" shape-rendering="crispEdges"/>
<rect x="1652" y="136" width="41" height="11" fill="#0000ff" shape-rendering="crispEdges"/>
<text x="1656" y="145" fill="#fff" textLength="33" lengthAdjust="spacingAndGlyphs">35198.5</text>
<rect x="1651" y="591" width="1" height="1" fill="#000" shape-rendering="crispEdges"/>
<text x="1654.6" y="600" textLength="27.4" lengthAdjust="spacingAndGlyphs">135.89</text>
<rect x="1651" y="647" width="1" height="1" fill="#000" shape-rendering="crispEdges"/>
<text x="1654.6" y="651" textLength="17.9" lengthAdjust="spacingAndGlyphs">0.00</text>
<text x="1654.6" y="742" textLength="31.2" lengthAdjust="spacingAndGlyphs">-232.22</text>
<text x="1653.5" y="758" textLength="15.4" lengthAdjust="spacingAndGlyphs">100</text>
<text x="1653.5" y="787" textLength="10.2" lengthAdjust="spacingAndGlyphs">80</text>
<text x="1653.5" y="838" textLength="10.2" lengthAdjust="spacingAndGlyphs">50</text>
<text x="1653.5" y="899" textLength="10.2" lengthAdjust="spacingAndGlyphs">15</text>
<text x="1653.5" y="918" textLength="5.1" lengthAdjust="spacingAndGlyphs">0</text>
<rect x="1651" y="744" width="1" height="1" fill="#000" shape-rendering="crispEdges"/>
<rect x="1651" y="749" width="1" height="1" fill="#000" shape-rendering="crispEdges"/>
<rect x="1651" y="920" width="1" height="1" fill="#000" shape-rendering="crispEdges"/>
</g>
<g id="dates" font-size="9.7">
<rect x="-8" y="922" width="1" height="3" fill="#000" shape-rendering="crispEdges"/>
<text x="-8.5" y="933.8" textLength="47.1" lengthAdjust="spacingAndGlyphs">16 Jul 2021</text>
<rect x="56" y="922" width="1" height="3" fill="#000" shape-rendering="crispEdges"/>
<text x="55.5" y="933.8" textLength="49.6" lengthAdjust="spacingAndGlyphs">19 Jul 12:00</text>
<rect x="120" y="922" width="1" height="3" fill="#000" shape-rendering="crispEdges"/>
<text x="119.5" y="933.8" textLength="49.6" lengthAdjust="spacingAndGlyphs">20 Jul 20:00</text>
<rect x="184" y="922" width="1" height="3" fill="#000" shape-rendering="crispEdges"/>
<text x="183.5" y="933.8" textLength="49.6" lengthAdjust="spacingAndGlyphs">22 Jul 04:00</text>
<rect x="248" y="922" width="1" height="3" fill="#000" shape-rendering="crispEdges"/>
<text x="247.5" y="933.8" textLength="49.6" lengthAdjust="spacingAndGlyphs">23 Jul 12:00</text>
<rect x="312" y="922" width="1" height="3" fill="#000" shape-rendering="crispEdges"/>
<text x="311.5" y="933.8" textLength="49.6" lengthAdjust="spacingAndGlyphs">26 Jul 16:00</text>
<rect x="376" y="922" width="1" height="3" fill="#000" shape-rendering="crispEdges"/>
<text x="375.5" y="933.8" textLength="49.6" lengthAdjust="spacingAndGlyphs">28 Jul 00:00</text>
<rect x="440" y="922" width="1" height="3" fill="#000" shape-rendering="crispEdges"/>
<text x="439.5" y="933.8" textLength="49.6" lengthAdjust="spacingAndGlyphs">29 Jul 08:00</text>
<rect x="504" y="922" width="1" height="3" fill="#000" shape-rendering="crispEdges"/>
<text x="503.5" y="933.8" textLength="49.6" lengthAdjust="spacingAndGlyphs">30 Jul 16:00</text>
<rect x="568" y="922" width="1" height="3" fill="#000" shape-rendering="crispEdges"/>
<text x="567.5" y="933.8" textLength="48.6" lengthAdjust="spacingAndGlyphs">2 Aug 20:00</text>
<rect x="632" y="922" width="1" height="3" fill="#000" shape-rendering="crispEdges"/>
<text x="631.5" y="933.8" textLength="48.6" lengthAdjust="spacingAndGlyphs">4 Aug 04:00</text>
<rect x="696" y="922" width="1" height="3" fill="#000" shape-rendering="crispEdges"/>
<text x="695.5" y="933.8" textLength="48.6" lengthAdjust="spacingAndGlyphs">5 Aug 12:00</text>
<rect x="760" y="922" width="1" height="3" fill="#000" shape-rendering="crispEdges"/>
<text x="759.5" y="933.8" textLength="48.6" lengthAdjust="spacingAndGlyphs">6 Aug 20:00</text>
<rect x="824" y="922" width="1" height="3" fill="#000" shape-rendering="crispEdges"/>
<text x="823.5" y="933.8" textLength="53.7" lengthAdjust="spacingAndGlyphs">10 Aug 00:00</text>
<rect x="888" y="922" width="1" height="3" fill="#000" shape-rendering="crispEdges"/>
<text x="887.5" y="933.8" textLength="53.0" lengthAdjust="spacingAndGlyphs">11 Aug 08:00</text>
<rect x="952" y="922" width="1" height="3" fill="#000" shape-rendering="crispEdges"/>
<text x="951.5" y="933.8" textLength="53.7" lengthAdjust="spacingAndGlyphs">12 Aug 16:00</text>
<rect x="1016" y="922" width="1" height="3" fill="#000" shape-rendering="crispEdges"/>
<text x="1015.5" y="933.8" textLength="53.7" lengthAdjust="spacingAndGlyphs">15 Aug 23:00</text>
<rect x="1080" y="922" width="1" height="3" fill="#000" shape-rendering="crispEdges"/>
<text x="1079.5" y="933.8" textLength="53.7" lengthAdjust="spacingAndGlyphs">17 Aug 04:00</text>
<rect x="1144" y="922" width="1" height="3" fill="#000" shape-rendering="crispEdges"/>
<text x="1143.5" y="933.8" textLength="53.7" lengthAdjust="spacingAndGlyphs">18 Aug 12:00</text>
<rect x="1208" y="922" width="1" height="3" fill="#000" shape-rendering="crispEdges"/>
<text x="1207.5" y="933.8" textLength="53.7" lengthAdjust="spacingAndGlyphs">19 Aug 20:00</text>
<rect x="1272" y="922" width="1" height="3" fill="#000" shape-rendering="crispEdges"/>
<text x="1271.5" y="933.8" textLength="53.7" lengthAdjust="spacingAndGlyphs">23 Aug 00:00</text>
<rect x="1336" y="922" width="1" height="3" fill="#000" shape-rendering="crispEdges"/>
<text x="1335.5" y="933.8" textLength="53.7" lengthAdjust="spacingAndGlyphs">24 Aug 08:00</text>
<rect x="1400" y="922" width="1" height="3" fill="#000" shape-rendering="crispEdges"/>
<text x="1399.5" y="933.8" textLength="53.7" lengthAdjust="spacingAndGlyphs">25 Aug 16:00</text>
</g>
<g id="titles" font-size="9.7">
<text x="7.5" y="32" textLength="186" lengthAdjust="spacingAndGlyphs" style="white-space:pre">DJ30-,H4  35383.0 35383.0 35383.0 35383.0</text>
<polygon points="0,31 3,31 0,28.5" fill="#000"/>
<text x="-2.5" y="602" textLength="116" lengthAdjust="spacingAndGlyphs">MACD(12,26,9) 75.84 75.43</text>
<text x="-2.5" y="760" textLength="66.5" lengthAdjust="spacingAndGlyphs">RSI(14) 60.4009</text>
</g>
</svg>
<div id="redge"></div>
<div id="panel">
  <div class="tab" style="left:0;width:47px;border-right:1px solid #c40c0c;"><span style="position:absolute;left:7px;top:-1.6px">SELL</span></div>
  <div class="tab" style="left:162px;width:52px;border-left:1px solid #c40c0c;border-right:1px solid #c40c0c;"><span style="position:absolute;left:13px;top:-1.6px">BUY</span></div>
  <div id="vol">
     <div class="sp" style="left:0.5px;"><svg width="18" height="17" style="position:absolute;left:0;top:0"><polygon points="6.2,6.6 11.2,6.6 8.7,9.4" fill="#4a5ec8"/></svg></div>
     <div style="right:24.500px;top:2.2px;font-size:12px;line-height:17px;color:#000;">1.00</div>
     <div class="sp" style="right:0.5px;"><svg width="18" height="17" style="position:absolute;left:0;top:0"><polygon points="6.2,9.4 11.200,9.400 8.700,6.600" fill="#4a5ec8"/></svg></div>
  </div>
  <div class="big" style="left:0;width:104px;">
     <div class="sm" style="left:11.5px;">35381</div><div class="dot" style="left:50.5px;"></div><div class="lg" style="left:58px;">5</div>
  </div>
  <div class="big" style="left:106px;width:108px;">
     <div class="sm" style="left:15.5px;">35394</div><div class="dot" style="left:55px;"></div><div class="lg" style="left:62.2px;">5</div>
  </div>
  <div class="uline" style="left:0;width:43px;"></div>
  <div class="uline" style="left:166px;width:44px;"></div>
  <div class="uline2" style="left:0;width:43px;"></div>
  <div class="uline2" style="left:166px;width:44px;"></div>
</div>
</body>
</html>
